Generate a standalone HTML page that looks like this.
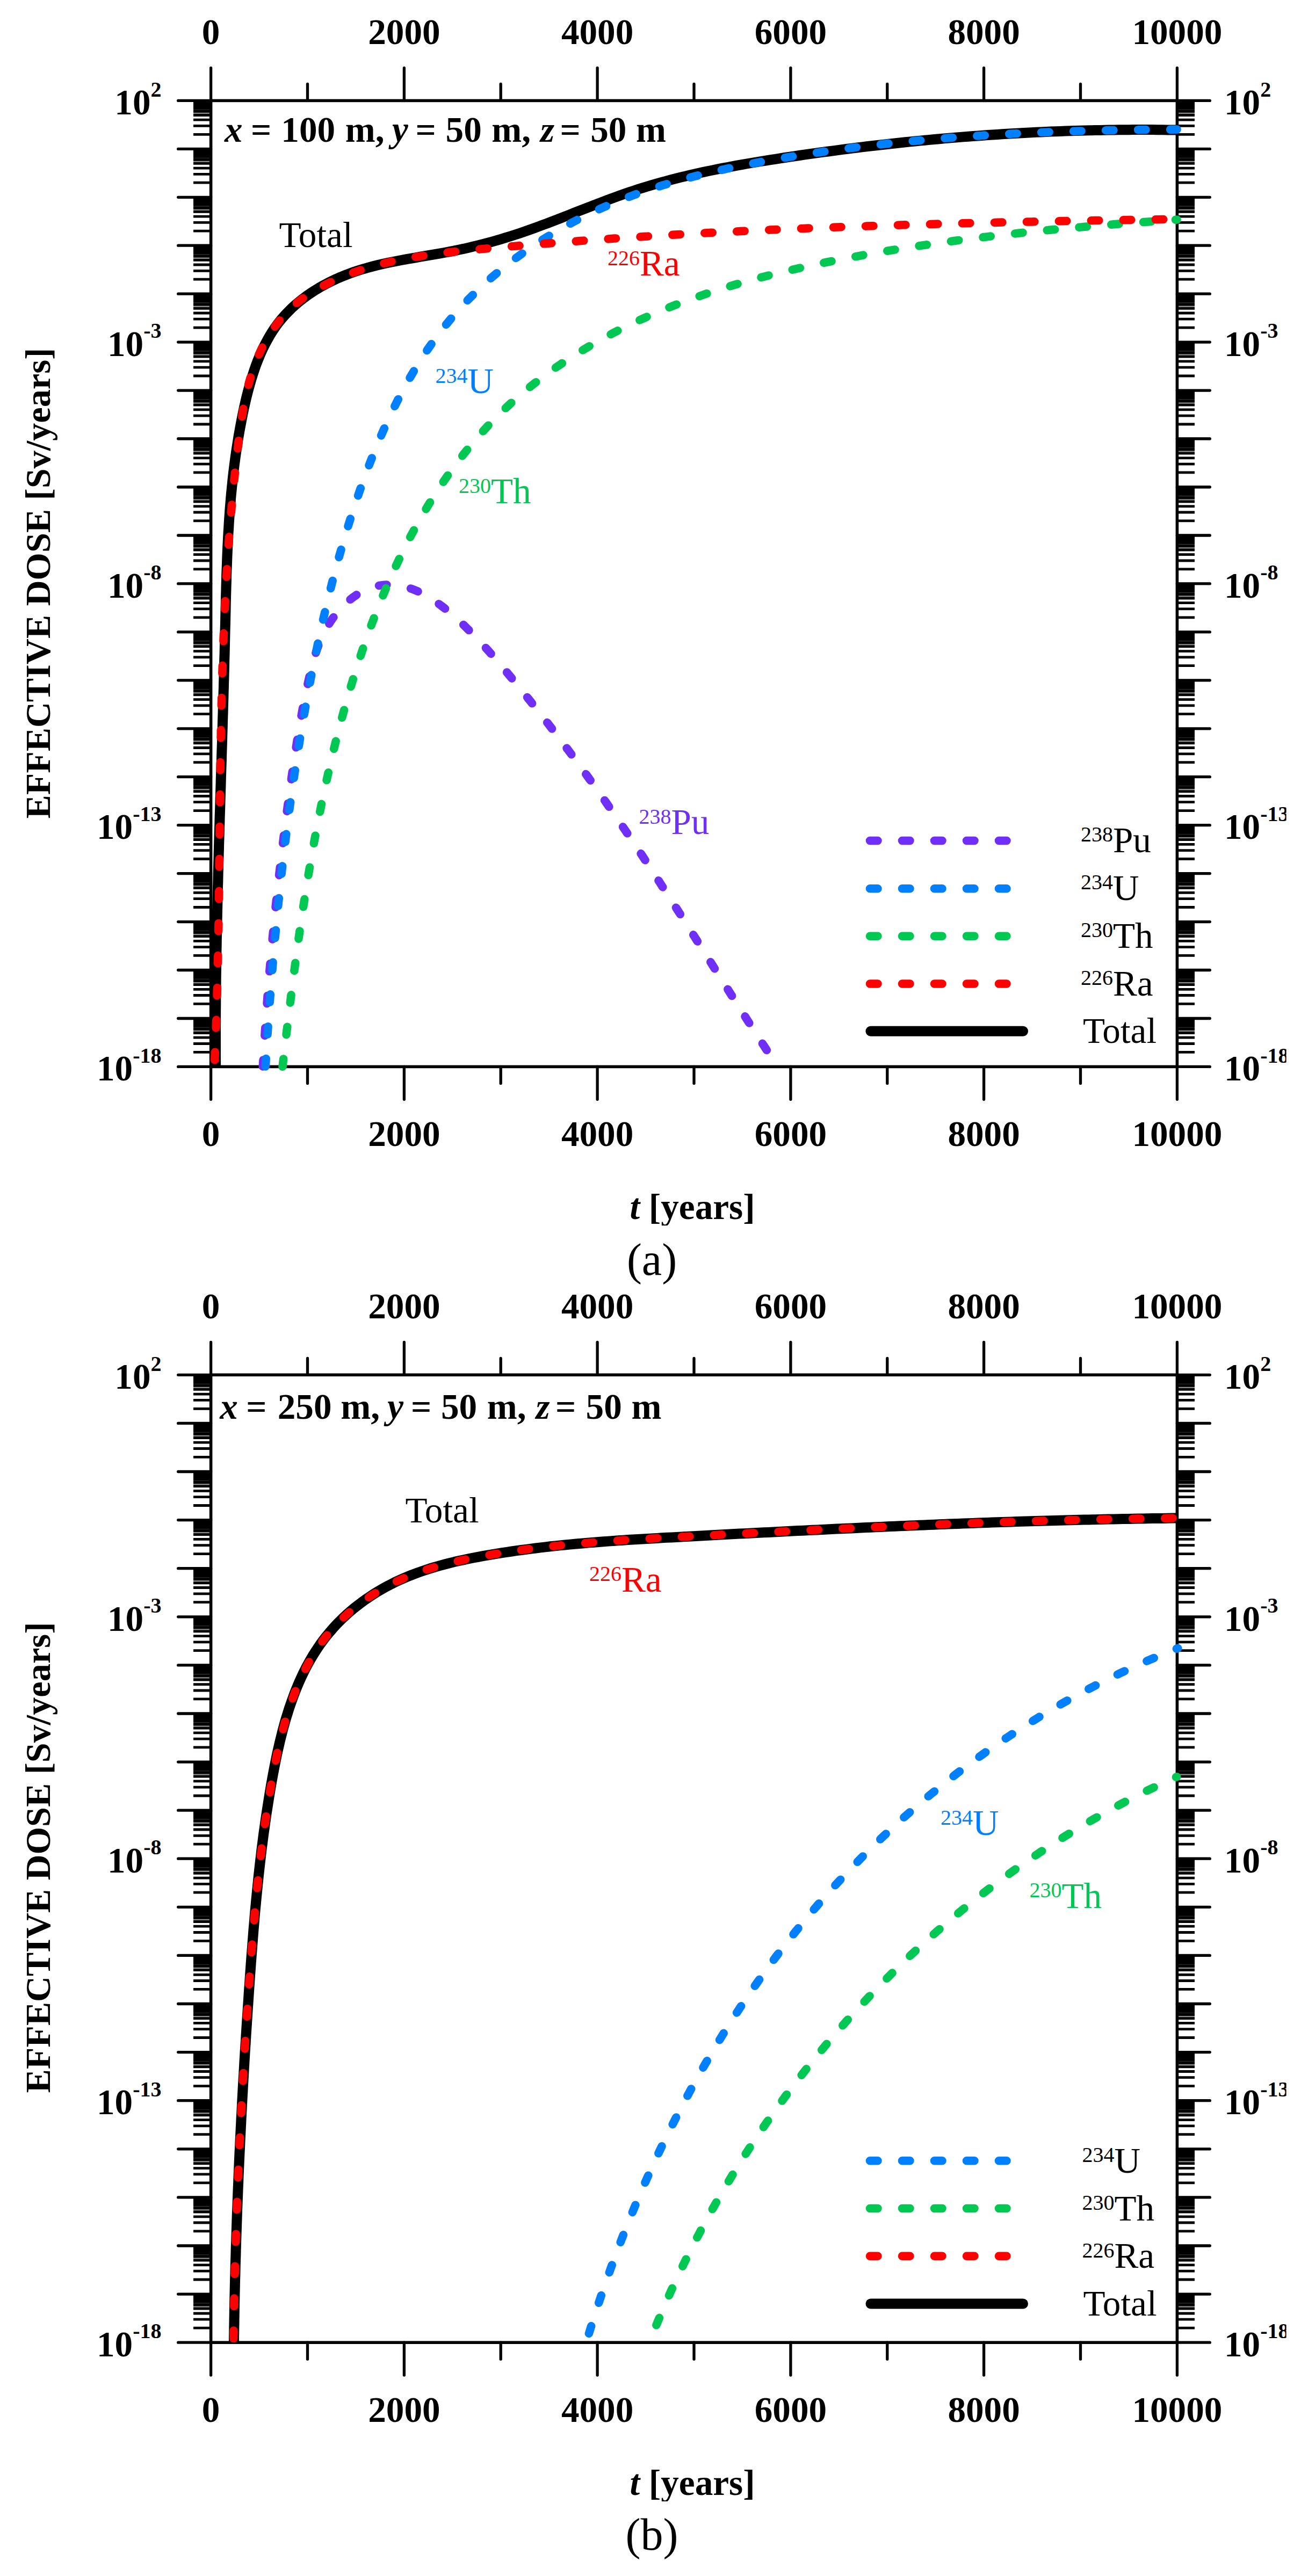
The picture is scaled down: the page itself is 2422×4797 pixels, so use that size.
<!DOCTYPE html>
<html lang="en">
<head>
<meta charset="utf-8">
<title>Effective dose</title>
<style>
html,body{margin:0;padding:0;background:#fff}
body{width:2422px;height:4797px;overflow:hidden}
svg{display:block}
text{font-family:"Liberation Serif",serif;font-size:67.2px;fill:#000}
.b text{font-weight:bold}
.i{font-style:italic}
.s{font-size:40px}
.cap{font-size:84px}
</style>
</head>
<body>
<svg width="2422" height="4797" viewBox="0 0 2422 4797">
<rect width="2422" height="4797" fill="#fff"/>
<g>

<path d="M360 187.4h32.6V203.7h-32.6zM2191.4 187.4h32.6V203.7h-32.6zM360 277.4h32.6V293.7h-32.6zM2191.4 277.4h32.6V293.7h-32.6zM360 367.3h32.6V383.6h-32.6zM2191.4 367.3h32.6V383.6h-32.6zM360 457.2h32.6V473.6h-32.6zM2191.4 457.2h32.6V473.6h-32.6zM360 547.2h32.6V563.5h-32.6zM2191.4 547.2h32.6V563.5h-32.6zM360 637.1h32.6V653.5h-32.6zM2191.4 637.1h32.6V653.5h-32.6zM360 727.1h32.6V743.4h-32.6zM2191.4 727.1h32.6V743.4h-32.6zM360 817h32.6V833.4h-32.6zM2191.4 817h32.6V833.4h-32.6zM360 907h32.6V923.3h-32.6zM2191.4 907h32.6V923.3h-32.6zM360 997h32.6V1013.3h-32.6zM2191.4 997h32.6V1013.3h-32.6zM360 1086.9h32.6V1103.2h-32.6zM2191.4 1086.9h32.6V1103.2h-32.6zM360 1176.9h32.6V1193.2h-32.6zM2191.4 1176.9h32.6V1193.2h-32.6zM360 1266.8h32.6V1283.1h-32.6zM2191.4 1266.8h32.6V1283.1h-32.6zM360 1356.8h32.6V1373.1h-32.6zM2191.4 1356.8h32.6V1373.1h-32.6zM360 1446.7h32.6V1463h-32.6zM2191.4 1446.7h32.6V1463h-32.6zM360 1536.7h32.6V1553h-32.6zM2191.4 1536.7h32.6V1553h-32.6zM360 1626.6h32.6V1642.9h-32.6zM2191.4 1626.6h32.6V1642.9h-32.6zM360 1716.6h32.6V1732.9h-32.6zM2191.4 1716.6h32.6V1732.9h-32.6zM360 1806.5h32.6V1822.8h-32.6zM2191.4 1806.5h32.6V1822.8h-32.6zM360 1896.5h32.6V1912.8h-32.6zM2191.4 1896.5h32.6V1912.8h-32.6z" fill="#000"/>
<path d="M360 203.7h32.6V207.4h-32.6zM2191.4 203.7h32.6V207.4h-32.6zM360 293.7h32.6V297.3h-32.6zM2191.4 293.7h32.6V297.3h-32.6zM360 383.6h32.6V387.3h-32.6zM2191.4 383.6h32.6V387.3h-32.6zM360 473.6h32.6V477.2h-32.6zM2191.4 473.6h32.6V477.2h-32.6zM360 563.5h32.6V567.2h-32.6zM2191.4 563.5h32.6V567.2h-32.6zM360 653.5h32.6V657.1h-32.6zM2191.4 653.5h32.6V657.1h-32.6zM360 743.4h32.6V747.1h-32.6zM2191.4 743.4h32.6V747.1h-32.6zM360 833.4h32.6V837h-32.6zM2191.4 833.4h32.6V837h-32.6zM360 923.3h32.6V927h-32.6zM2191.4 923.3h32.6V927h-32.6zM360 1013.3h32.6V1016.9h-32.6zM2191.4 1013.3h32.6V1016.9h-32.6zM360 1103.2h32.6V1106.9h-32.6zM2191.4 1103.2h32.6V1106.9h-32.6zM360 1193.2h32.6V1196.8h-32.6zM2191.4 1193.2h32.6V1196.8h-32.6zM360 1283.1h32.6V1286.8h-32.6zM2191.4 1283.1h32.6V1286.8h-32.6zM360 1373.1h32.6V1376.7h-32.6zM2191.4 1373.1h32.6V1376.7h-32.6zM360 1463h32.6V1466.7h-32.6zM2191.4 1463h32.6V1466.7h-32.6zM360 1553h32.6V1556.6h-32.6zM2191.4 1553h32.6V1556.6h-32.6zM360 1642.9h32.6V1646.6h-32.6zM2191.4 1642.9h32.6V1646.6h-32.6zM360 1732.9h32.6V1736.5h-32.6zM2191.4 1732.9h32.6V1736.5h-32.6zM360 1822.8h32.6V1826.5h-32.6zM2191.4 1822.8h32.6V1826.5h-32.6zM360 1912.8h32.6V1916.4h-32.6zM2191.4 1912.8h32.6V1916.4h-32.6z" fill="#000" fill-opacity="0.85"/>
<path d="M360 207.4h32.6V214.5h-32.6zM2191.4 207.4h32.6V214.5h-32.6zM360 297.3h32.6V304.4h-32.6zM2191.4 297.3h32.6V304.4h-32.6zM360 387.3h32.6V394.4h-32.6zM2191.4 387.3h32.6V394.4h-32.6zM360 477.2h32.6V484.3h-32.6zM2191.4 477.2h32.6V484.3h-32.6zM360 567.2h32.6V574.3h-32.6zM2191.4 567.2h32.6V574.3h-32.6zM360 657.1h32.6V664.2h-32.6zM2191.4 657.1h32.6V664.2h-32.6zM360 747.1h32.6V754.2h-32.6zM2191.4 747.1h32.6V754.2h-32.6zM360 837h32.6V844.1h-32.6zM2191.4 837h32.6V844.1h-32.6zM360 927h32.6V934.1h-32.6zM2191.4 927h32.6V934.1h-32.6zM360 1016.9h32.6V1024h-32.6zM2191.4 1016.9h32.6V1024h-32.6zM360 1106.9h32.6V1114h-32.6zM2191.4 1106.9h32.6V1114h-32.6zM360 1196.8h32.6V1203.9h-32.6zM2191.4 1196.8h32.6V1203.9h-32.6zM360 1286.8h32.6V1293.9h-32.6zM2191.4 1286.8h32.6V1293.9h-32.6zM360 1376.7h32.6V1383.8h-32.6zM2191.4 1376.7h32.6V1383.8h-32.6zM360 1466.7h32.6V1473.8h-32.6zM2191.4 1466.7h32.6V1473.8h-32.6zM360 1556.6h32.6V1563.7h-32.6zM2191.4 1556.6h32.6V1563.7h-32.6zM360 1646.6h32.6V1653.7h-32.6zM2191.4 1646.6h32.6V1653.7h-32.6zM360 1736.5h32.6V1743.6h-32.6zM2191.4 1736.5h32.6V1743.6h-32.6zM360 1826.5h32.6V1833.6h-32.6zM2191.4 1826.5h32.6V1833.6h-32.6zM360 1916.4h32.6V1923.5h-32.6zM2191.4 1916.4h32.6V1923.5h-32.6z" fill="#000" fill-opacity="0.45"/>
<path d="M360 250.3H392.6M2191.4 250.3H2224M360 234.4H392.6M2191.4 234.4H2224M360 223.2H392.6M2191.4 223.2H2224M360 214.5H392.6M2191.4 214.5H2224M360 207.4H392.6M2191.4 207.4H2224M360 201.3H392.6M2191.4 201.3H2224M360 196.1H392.6M2191.4 196.1H2224M360 191.5H392.6M2191.4 191.5H2224M360 340.2H392.6M2191.4 340.2H2224M360 324.4H392.6M2191.4 324.4H2224M360 313.1H392.6M2191.4 313.1H2224M360 304.4H392.6M2191.4 304.4H2224M360 297.3H392.6M2191.4 297.3H2224M360 291.3H392.6M2191.4 291.3H2224M360 286.1H392.6M2191.4 286.1H2224M360 281.5H392.6M2191.4 281.5H2224M360 430.2H392.6M2191.4 430.2H2224M360 414.3H392.6M2191.4 414.3H2224M360 403.1H392.6M2191.4 403.1H2224M360 394.4H392.6M2191.4 394.4H2224M360 387.3H392.6M2191.4 387.3H2224M360 381.2H392.6M2191.4 381.2H2224M360 376H392.6M2191.4 376H2224M360 371.4H392.6M2191.4 371.4H2224M360 520.1H392.6M2191.4 520.1H2224M360 504.3H392.6M2191.4 504.3H2224M360 493H392.6M2191.4 493H2224M360 484.3H392.6M2191.4 484.3H2224M360 477.2H392.6M2191.4 477.2H2224M360 471.2H392.6M2191.4 471.2H2224M360 466H392.6M2191.4 466H2224M360 461.4H392.6M2191.4 461.4H2224M360 610.1H392.6M2191.4 610.1H2224M360 594.2H392.6M2191.4 594.2H2224M360 583H392.6M2191.4 583H2224M360 574.3H392.6M2191.4 574.3H2224M360 567.2H392.6M2191.4 567.2H2224M360 561.1H392.6M2191.4 561.1H2224M360 555.9H392.6M2191.4 555.9H2224M360 551.3H392.6M2191.4 551.3H2224M360 700H392.6M2191.4 700H2224M360 684.2H392.6M2191.4 684.2H2224M360 672.9H392.6M2191.4 672.9H2224M360 664.2H392.6M2191.4 664.2H2224M360 657.1H392.6M2191.4 657.1H2224M360 651.1H392.6M2191.4 651.1H2224M360 645.9H392.6M2191.4 645.9H2224M360 641.3H392.6M2191.4 641.3H2224M360 790H392.6M2191.4 790H2224M360 774.1H392.6M2191.4 774.1H2224M360 762.9H392.6M2191.4 762.9H2224M360 754.2H392.6M2191.4 754.2H2224M360 747.1H392.6M2191.4 747.1H2224M360 741H392.6M2191.4 741H2224M360 735.8H392.6M2191.4 735.8H2224M360 731.2H392.6M2191.4 731.2H2224M360 879.9H392.6M2191.4 879.9H2224M360 864.1H392.6M2191.4 864.1H2224M360 852.8H392.6M2191.4 852.8H2224M360 844.1H392.6M2191.4 844.1H2224M360 837H392.6M2191.4 837H2224M360 831H392.6M2191.4 831H2224M360 825.8H392.6M2191.4 825.8H2224M360 821.2H392.6M2191.4 821.2H2224M360 969.9H392.6M2191.4 969.9H2224M360 954H392.6M2191.4 954H2224M360 942.8H392.6M2191.4 942.8H2224M360 934.1H392.6M2191.4 934.1H2224M360 927H392.6M2191.4 927H2224M360 920.9H392.6M2191.4 920.9H2224M360 915.7H392.6M2191.4 915.7H2224M360 911.1H392.6M2191.4 911.1H2224M360 1059.8H392.6M2191.4 1059.8H2224M360 1044H392.6M2191.4 1044H2224M360 1032.7H392.6M2191.4 1032.7H2224M360 1024H392.6M2191.4 1024H2224M360 1016.9H392.6M2191.4 1016.9H2224M360 1010.9H392.6M2191.4 1010.9H2224M360 1005.7H392.6M2191.4 1005.7H2224M360 1001.1H392.6M2191.4 1001.1H2224M360 1149.8H392.6M2191.4 1149.8H2224M360 1133.9H392.6M2191.4 1133.9H2224M360 1122.7H392.6M2191.4 1122.7H2224M360 1114H392.6M2191.4 1114H2224M360 1106.9H392.6M2191.4 1106.9H2224M360 1100.8H392.6M2191.4 1100.8H2224M360 1095.6H392.6M2191.4 1095.6H2224M360 1091H392.6M2191.4 1091H2224M360 1239.7H392.6M2191.4 1239.7H2224M360 1223.9H392.6M2191.4 1223.9H2224M360 1212.6H392.6M2191.4 1212.6H2224M360 1203.9H392.6M2191.4 1203.9H2224M360 1196.8H392.6M2191.4 1196.8H2224M360 1190.8H392.6M2191.4 1190.8H2224M360 1185.6H392.6M2191.4 1185.6H2224M360 1181H392.6M2191.4 1181H2224M360 1329.7H392.6M2191.4 1329.7H2224M360 1313.8H392.6M2191.4 1313.8H2224M360 1302.6H392.6M2191.4 1302.6H2224M360 1293.9H392.6M2191.4 1293.9H2224M360 1286.8H392.6M2191.4 1286.8H2224M360 1280.7H392.6M2191.4 1280.7H2224M360 1275.5H392.6M2191.4 1275.5H2224M360 1270.9H392.6M2191.4 1270.9H2224M360 1419.6H392.6M2191.4 1419.6H2224M360 1403.8H392.6M2191.4 1403.8H2224M360 1392.5H392.6M2191.4 1392.5H2224M360 1383.8H392.6M2191.4 1383.8H2224M360 1376.7H392.6M2191.4 1376.7H2224M360 1370.7H392.6M2191.4 1370.7H2224M360 1365.5H392.6M2191.4 1365.5H2224M360 1360.9H392.6M2191.4 1360.9H2224M360 1509.6H392.6M2191.4 1509.6H2224M360 1493.7H392.6M2191.4 1493.7H2224M360 1482.5H392.6M2191.4 1482.5H2224M360 1473.8H392.6M2191.4 1473.8H2224M360 1466.7H392.6M2191.4 1466.7H2224M360 1460.6H392.6M2191.4 1460.6H2224M360 1455.4H392.6M2191.4 1455.4H2224M360 1450.8H392.6M2191.4 1450.8H2224M360 1599.5H392.6M2191.4 1599.5H2224M360 1583.7H392.6M2191.4 1583.7H2224M360 1572.4H392.6M2191.4 1572.4H2224M360 1563.7H392.6M2191.4 1563.7H2224M360 1556.6H392.6M2191.4 1556.6H2224M360 1550.6H392.6M2191.4 1550.6H2224M360 1545.4H392.6M2191.4 1545.4H2224M360 1540.8H392.6M2191.4 1540.8H2224M360 1689.5H392.6M2191.4 1689.5H2224M360 1673.6H392.6M2191.4 1673.6H2224M360 1662.4H392.6M2191.4 1662.4H2224M360 1653.7H392.6M2191.4 1653.7H2224M360 1646.6H392.6M2191.4 1646.6H2224M360 1640.5H392.6M2191.4 1640.5H2224M360 1635.3H392.6M2191.4 1635.3H2224M360 1630.7H392.6M2191.4 1630.7H2224M360 1779.4H392.6M2191.4 1779.4H2224M360 1763.6H392.6M2191.4 1763.6H2224M360 1752.3H392.6M2191.4 1752.3H2224M360 1743.6H392.6M2191.4 1743.6H2224M360 1736.5H392.6M2191.4 1736.5H2224M360 1730.5H392.6M2191.4 1730.5H2224M360 1725.3H392.6M2191.4 1725.3H2224M360 1720.7H392.6M2191.4 1720.7H2224M360 1869.4H392.6M2191.4 1869.4H2224M360 1853.5H392.6M2191.4 1853.5H2224M360 1842.3H392.6M2191.4 1842.3H2224M360 1833.6H392.6M2191.4 1833.6H2224M360 1826.5H392.6M2191.4 1826.5H2224M360 1820.4H392.6M2191.4 1820.4H2224M360 1815.2H392.6M2191.4 1815.2H2224M360 1810.6H392.6M2191.4 1810.6H2224M360 1959.3H392.6M2191.4 1959.3H2224M360 1943.5H392.6M2191.4 1943.5H2224M360 1932.2H392.6M2191.4 1932.2H2224M360 1923.5H392.6M2191.4 1923.5H2224M360 1916.4H392.6M2191.4 1916.4H2224M360 1910.4H392.6M2191.4 1910.4H2224M360 1905.2H392.6M2191.4 1905.2H2224M360 1900.6H392.6M2191.4 1900.6H2224" stroke="#000" stroke-width="4.8" fill="none"/>
<path d="M331.7 187.4H392.6M2191.4 187.4H2252.3M331.7 277.4H392.6M2191.4 277.4H2252.3M331.7 367.3H392.6M2191.4 367.3H2252.3M331.7 457.2H392.6M2191.4 457.2H2252.3M331.7 547.2H392.6M2191.4 547.2H2252.3M331.7 637.1H392.6M2191.4 637.1H2252.3M331.7 727.1H392.6M2191.4 727.1H2252.3M331.7 817H392.6M2191.4 817H2252.3M331.7 907H392.6M2191.4 907H2252.3M331.7 997H392.6M2191.4 997H2252.3M331.7 1086.9H392.6M2191.4 1086.9H2252.3M331.7 1176.9H392.6M2191.4 1176.9H2252.3M331.7 1266.8H392.6M2191.4 1266.8H2252.3M331.7 1356.8H392.6M2191.4 1356.8H2252.3M331.7 1446.7H392.6M2191.4 1446.7H2252.3M331.7 1536.7H392.6M2191.4 1536.7H2252.3M331.7 1626.6H392.6M2191.4 1626.6H2252.3M331.7 1716.6H392.6M2191.4 1716.6H2252.3M331.7 1806.5H392.6M2191.4 1806.5H2252.3M331.7 1896.5H392.6M2191.4 1896.5H2252.3M331.7 1986.4H392.6M2191.4 1986.4H2252.3M392.6 126.5V187.4M392.6 1986.4V2047.3M572.5 156.4V187.4M572.5 1986.4V2017.4M752.4 126.5V187.4M752.4 1986.4V2047.3M932.2 156.4V187.4M932.2 1986.4V2017.4M1112.1 126.5V187.4M1112.1 1986.4V2047.3M1292 156.4V187.4M1292 1986.4V2017.4M1471.9 126.5V187.4M1471.9 1986.4V2047.3M1651.8 156.4V187.4M1651.8 1986.4V2017.4M1831.6 126.5V187.4M1831.6 1986.4V2047.3M2011.5 156.4V187.4M2011.5 1986.4V2017.4M2191.4 126.5V187.4M2191.4 1986.4V2047.3" stroke="#000" stroke-width="5.3" fill="none" stroke-linecap="round"/>
<rect x="392.6" y="187.4" width="1798.8" height="1799" fill="none" stroke="#000" stroke-width="5.6"/>
<g fill="none" stroke-linecap="round" stroke-linejoin="round">
<path d="M401.6 1986.3 401.6 1977.3 401.5 1968.2 401.5 1959.2 401.5 1950.2 401.5 1941.1 401.5 1932.1 401.5 1923 401.5 1914 401.5 1904.9 401.6 1895.9 401.6 1886.8 401.7 1877.8 401.8 1868.8 401.8 1859.7 401.9 1850.7 402 1841.6 402.1 1832.6 402.2 1823.5 402.3 1814.5 402.5 1805.5 402.6 1796.4 402.7 1787.4 402.9 1778.3 403 1769.3 403.2 1760.2 403.3 1751.2 403.5 1742.2 403.7 1733.1 403.9 1724.1 404.1 1715 404.3 1706 404.5 1696.9 404.7 1687.9 404.9 1678.9 405.1 1669.8 405.3 1660.8 405.5 1651.7 405.8 1642.7 406 1633.7 406.2 1624.6 406.5 1615.6 406.7 1606.5 407 1597.5 407.2 1588.5 407.5 1579.4 407.7 1570.4 408 1561.3 408.2 1552.3 408.5 1543.2 408.8 1534.2 409 1525.2 409.3 1516.1 409.6 1507.1 409.9 1498 410.1 1489 410.4 1480 410.7 1470.9 411 1461.9 411.2 1452.8 411.5 1443.8 411.8 1434.8 412.1 1425.7 412.4 1416.7 412.6 1407.7 412.9 1398.6 413.2 1389.6 413.5 1380.5 413.7 1371.5 414 1362.5 414.3 1353.4 414.5 1344.4 414.8 1335.3 415.1 1326.3 415.3 1317.3 415.6 1308.2 415.9 1299.2 416.1 1290.1 416.4 1281.1 416.6 1272 416.9 1263 417.1 1254 417.4 1244.9 417.6 1235.9 417.8 1226.8 418.1 1217.8 418.3 1208.8 418.5 1199.7 418.7 1190.7 418.9 1181.6 419.1 1172.6 419.4 1163.6 419.6 1154.5 419.8 1145.5 420 1136.4 420.2 1127.4 420.4 1118.3 420.6 1109.3 420.9 1100.3 421.1 1091.2 421.4 1082.2 421.6 1073.1 421.9 1064.1 422.3 1055.1 422.6 1046 422.9 1037 423.3 1028 423.7 1018.9 424.2 1009.9 424.6 1000.9 425.1 991.8 425.7 982.8 426.2 973.8 426.8 964.7 427.5 955.7 428.1 946.7 428.9 937.7 429.6 928.7 430.4 919.7 431.3 910.7 432.2 901.7 433.1 892.7 434.1 883.7 435.2 874.7 436.3 865.7 437.5 856.8 438.7 847.8 440 838.9 441.4 829.9 442.8 821 444.2 812.1 445.8 803.1 447.4 794.2 449.1 785.4 450.8 776.5 452.6 767.6 454.5 758.8 456.5 749.9 458.5 741.1 460.7 732.4 463 723.6 465.4 714.9 467.9 706.2 470.6 697.6 473.4 689 476.4 680.4 479.6 672 483 663.6 486.6 655.3 490.4 647.1 494.5 639 498.8 631.1 503.3 623.2 508.1 615.6 513.2 608.1 518.6 600.9 524.3 593.8 530.3 587 536.5 580.4 542.9 574.1 549.6 568 556.5 562.1 563.6 556.5 570.8 551.1 578.2 545.9 585.8 541 593.5 536.3 601.4 531.8 609.4 527.5 617.4 523.5 625.6 519.6 633.9 516 642.3 512.6 650.7 509.4 659.3 506.3 667.8 503.5 676.5 500.8 685.2 498.4 693.9 496 702.7 493.8 711.5 491.8 720.3 489.8 729.2 488 738.1 486.2 746.9 484.5 755.8 482.9 764.7 481.3 773.6 479.8 782.6 478.2 791.5 476.7 800.4 475.2 809.3 473.7 818.2 472.1 827.1 470.5 836 468.8 844.9 467.1 853.7 465.2 862.6 463.4 871.4 461.4 880.2 459.3 889 457.2 897.8 455 906.5 452.7 915.2 450.3 924 447.9 932.6 445.3 941.3 442.7 949.9 440 958.5 437.3 967.1 434.4 975.7 431.5 984.2 428.5 992.7 425.5 1001.2 422.4 1009.7 419.2 1018.2 416.1 1026.6 412.8 1035.1 409.6 1043.5 406.3 1051.9 403 1060.4 399.8 1068.8 396.4 1077.2 393.1 1085.6 389.8 1094 386.6 1102.5 383.3 1110.9 380 1119.4 376.8 1127.8 373.6 1136.3 370.5 1144.8 367.3 1153.3 364.3 1161.8 361.3 1170.4 358.3 1179 355.4 1187.5 352.6 1196.2 349.9 1204.8 347.2 1213.5 344.6 1222.2 342.1 1230.9 339.7 1239.6 337.3 1248.3 335 1257.1 332.7 1265.9 330.5 1274.7 328.4 1283.5 326.3 1292.3 324.3 1301.1 322.3 1309.9 320.4 1318.8 318.5 1327.6 316.7 1336.5 314.9 1345.4 313.2 1354.3 311.5 1363.2 309.8 1372.1 308.2 1381 306.6 1389.9 305 1398.8 303.5 1407.7 302 1416.6 300.5 1425.6 299.1 1434.5 297.7 1443.4 296.3 1452.4 294.9 1461.3 293.5 1470.2 292.2 1479.2 290.8 1488.1 289.5 1497.1 288.2 1506 286.9 1515 285.7 1523.9 284.4 1532.9 283.2 1541.9 282 1550.8 280.8 1559.8 279.6 1568.8 278.4 1577.7 277.3 1586.7 276.1 1595.7 275 1604.7 273.9 1613.6 272.8 1622.6 271.8 1631.6 270.7 1640.6 269.7 1649.6 268.7 1658.6 267.7 1667.6 266.7 1676.5 265.7 1685.5 264.8 1694.5 263.9 1703.5 263 1712.5 262.1 1721.5 261.2 1730.5 260.4 1739.6 259.5 1748.6 258.7 1757.6 257.9 1766.6 257.1 1775.6 256.4 1784.6 255.6 1793.6 254.9 1802.6 254.2 1811.7 253.5 1820.7 252.9 1829.7 252.2 1838.7 251.6 1847.7 251 1856.8 250.4 1865.8 249.8 1874.8 249.3 1883.8 248.7 1892.9 248.2 1901.9 247.7 1910.9 247.2 1920 246.8 1929 246.3 1938 245.9 1947.1 245.5 1956.1 245.1 1965.1 244.8 1974.2 244.4 1983.2 244.1 1992.3 243.8 2001.3 243.5 2010.3 243.2 2019.4 243 2028.4 242.8 2037.5 242.6 2046.5 242.4 2055.5 242.2 2064.6 242.1 2073.6 241.9 2082.7 241.8 2091.7 241.7 2100.8 241.7 2109.8 241.6 2118.8 241.6 2127.9 241.6 2136.9 241.6 2146 241.6 2155 241.7 2164.1 241.8 2173.1 241.9 2182.2 242 2191.2 242.1" stroke="#000" stroke-width="19.0" stroke-linecap="butt"/>
<path d="M489.3 1985.9 489.8 1976.9 490.4 1967.9 490.9 1958.8 491.4 1949.8 492 1940.8 492.6 1931.8 493.2 1922.8 493.8 1913.7 494.4 1904.7 495 1895.7 495.7 1886.7 496.3 1877.7 497 1868.6 497.7 1859.6 498.4 1850.6 499.1 1841.6 499.8 1832.6 500.5 1823.6 501.3 1814.6 502 1805.6 502.8 1796.6 503.6 1787.6 504.4 1778.5 505.2 1769.5 506.1 1760.5 506.9 1751.5 507.7 1742.5 508.6 1733.5 509.5 1724.5 510.4 1715.5 511.3 1706.6 512.2 1697.6 513.1 1688.6 514.1 1679.6 515 1670.6 516 1661.6 517 1652.6 518 1643.6 519 1634.6 520 1625.7 521.1 1616.7 522.1 1607.7 523.2 1598.7 524.2 1589.7 525.3 1580.8 526.4 1571.8 527.5 1562.8 528.6 1553.8 529.8 1544.9 530.9 1535.9 532.1 1526.9 533.2 1518 534.4 1509 535.6 1500.1 536.8 1491.1 538 1482.1 539.3 1473.2 540.5 1464.2 541.8 1455.3 543 1446.3 544.3 1437.4 545.6 1428.4 546.9 1419.5 548.3 1410.5 549.6 1401.6 551 1392.7 552.4 1383.7 553.8 1374.8 555.3 1365.9 556.8 1357 558.3 1348.1 559.9 1339.2 561.5 1330.3 563.1 1321.4 564.8 1312.5 566.6 1303.6 568.3 1294.8 570.2 1285.9 572.1 1277.1 574.1 1268.2 576.1 1259.4 578.2 1250.6 580.4 1241.9 582.7 1233.1 585.2 1224.4 587.9 1215.8 590.8 1207.3 594 1198.8 597.5 1190.5 601.2 1182.2 605.3 1174.2 609.8 1166.3 614.5 1158.6 619.6 1151.2 625.1 1143.9 630.8 1137 636.9 1130.3 643.3 1123.9 650.1 1117.9 657.2 1112.3 664.6 1107.2 672.4 1102.5 680.4 1098.4 688.8 1095 697.4 1092.3 706.2 1090.4 715.2 1089.2 724.2 1088.8 733.3 1089.1 742.2 1090.2 751.1 1091.9 759.8 1094.3 768.4 1097.3 776.7 1100.7 784.9 1104.6 792.8 1108.9 800.6 1113.5 808.2 1118.4 815.6 1123.6 822.9 1129 830 1134.5 837 1140.3 843.9 1146.2 850.6 1152.2 857.2 1158.3 863.8 1164.5 870.3 1170.9 876.7 1177.2 883 1183.7 889.3 1190.2 895.4 1196.8 901.6 1203.5 907.6 1210.2 913.6 1216.9 919.6 1223.7 925.5 1230.6 931.3 1237.5 937.2 1244.4 943 1251.3 948.8 1258.3 954.5 1265.2 960.3 1272.2 966 1279.2 971.7 1286.2 977.4 1293.3 983 1300.3 988.7 1307.4 994.3 1314.4 999.9 1321.5 1005.5 1328.6 1011.1 1335.7 1016.6 1342.9 1022.2 1350 1027.7 1357.2 1033.2 1364.4 1038.7 1371.5 1044.2 1378.7 1049.6 1386 1055 1393.2 1060.5 1400.4 1065.9 1407.7 1071.2 1414.9 1076.6 1422.2 1081.9 1429.5 1087.3 1436.8 1092.6 1444.1 1097.9 1451.5 1103.1 1458.8 1108.4 1466.2 1113.6 1473.5 1118.9 1480.9 1124.1 1488.3 1129.3 1495.7 1134.4 1503.1 1139.6 1510.5 1144.7 1518 1149.8 1525.4 1154.9 1532.9 1160 1540.4 1165.1 1547.8 1170.2 1555.3 1175.2 1562.8 1180.3 1570.3 1185.3 1577.9 1190.3 1585.4 1195.3 1592.9 1200.3 1600.5 1205.2 1608 1210.2 1615.6 1215.1 1623.1 1220.1 1630.7 1225 1638.3 1229.9 1645.9 1234.8 1653.5 1239.7 1661.1 1244.6 1668.7 1249.5 1676.3 1254.4 1683.9 1259.3 1691.5 1264.2 1699.1 1269 1706.7 1273.9 1714.4 1278.7 1722 1283.6 1729.6 1288.4 1737.2 1293.3 1744.9 1298.1 1752.5 1302.9 1760.2 1307.8 1767.8 1312.6 1775.4 1317.4 1783.1 1322.3 1790.7 1327.1 1798.4 1331.9 1806 1336.7 1813.7 1341.6 1821.3 1346.4 1828.9 1351.2 1836.6 1356.1 1844.2 1360.9 1851.8 1365.8 1859.5 1370.6 1867.1 1375.5 1874.7 1380.3 1882.4 1385.2 1890 1390 1897.6 1394.9 1905.2 1399.8 1912.8 1404.7 1920.4 1409.6 1928 1414.5 1935.6 1419.4 1943.2 1424.3 1950.8 1429.2 1958.4 1434.2 1966" stroke="#6f2ff7" stroke-width="15.5" stroke-dasharray="14.5 45.5" stroke-dashoffset="2.5"/>
<path d="M494.3 1986 494.9 1977 495.4 1967.9 496 1958.9 496.5 1949.9 497.1 1940.9 497.7 1931.8 498.3 1922.8 498.9 1913.8 499.5 1904.8 500.1 1895.8 500.8 1886.8 501.4 1877.7 502.1 1868.7 502.7 1859.7 503.4 1850.7 504.1 1841.7 504.8 1832.7 505.5 1823.7 506.2 1814.7 507 1805.6 507.7 1796.6 508.5 1787.6 509.3 1778.6 510 1769.6 510.8 1760.6 511.6 1751.6 512.5 1742.6 513.3 1733.6 514.1 1724.6 515 1715.6 515.9 1706.6 516.7 1697.6 517.6 1688.6 518.5 1679.6 519.5 1670.6 520.4 1661.6 521.4 1652.7 522.3 1643.7 523.3 1634.7 524.3 1625.7 525.3 1616.7 526.3 1607.7 527.4 1598.8 528.4 1589.8 529.5 1580.8 530.6 1571.8 531.7 1562.9 532.8 1553.9 533.9 1544.9 535.1 1536 536.2 1527 537.4 1518 538.6 1509.1 539.8 1500.1 541.1 1491.2 542.3 1482.2 543.6 1473.3 544.8 1464.3 546.1 1455.4 547.5 1446.4 548.8 1437.5 550.1 1428.5 551.5 1419.6 552.9 1410.7 554.3 1401.7 555.7 1392.8 557.2 1383.9 558.6 1375 560.1 1366.1 561.6 1357.1 563.1 1348.2 564.6 1339.3 566.2 1330.4 567.8 1321.5 569.4 1312.6 571 1303.7 572.6 1294.8 574.3 1286 575.9 1277.1 577.6 1268.2 579.3 1259.3 581.1 1250.4 582.8 1241.6 584.6 1232.7 586.4 1223.9 588.3 1215 590.1 1206.2 592 1197.3 593.9 1188.5 595.8 1179.6 597.8 1170.8 599.7 1162 601.7 1153.2 603.8 1144.4 605.8 1135.6 607.9 1126.8 610 1118 612.2 1109.2 614.4 1100.4 616.6 1091.7 618.8 1082.9 621.1 1074.2 623.4 1065.4 625.7 1056.7 628.1 1048 630.5 1039.3 633 1030.6 635.5 1021.9 638 1013.2 640.5 1004.5 643.1 995.9 645.7 987.2 648.4 978.6 651.1 970 653.8 961.3 656.6 952.7 659.4 944.1 662.3 935.6 665.2 927 668.1 918.5 671.1 909.9 674.1 901.4 677.2 892.9 680.3 884.4 683.4 875.9 686.6 867.5 689.9 859 693.2 850.6 696.5 842.2 699.9 833.9 703.4 825.5 706.9 817.2 710.5 808.9 714.1 800.6 717.8 792.4 721.6 784.1 725.4 775.9 729.3 767.8 733.2 759.7 737.3 751.6 741.3 743.5 745.5 735.5 749.8 727.5 754.1 719.6 758.5 711.7 762.9 703.8 767.5 696 772.1 688.2 776.8 680.5 781.6 672.8 786.5 665.2 791.4 657.7 796.5 650.2 801.6 642.8 806.9 635.4 812.2 628.1 817.6 620.8 823.1 613.7 828.7 606.6 834.4 599.6 840.2 592.6 846.1 585.8 852.1 579 858.1 572.3 864.3 565.7 870.5 559.1 876.9 552.7 883.3 546.3 889.8 540 896.3 533.8 903 527.7 909.7 521.6 916.5 515.7 923.4 509.8 930.3 504 937.3 498.3 944.4 492.7 951.6 487.2 958.8 481.7 966.1 476.4 973.4 471.1 980.8 465.9 988.2 460.8 995.7 455.7 1003.3 450.8 1010.9 445.9 1018.6 441.2 1026.3 436.5 1034.1 431.8 1041.9 427.3 1049.8 422.9 1057.7 418.5 1065.7 414.2 1073.7 410 1081.7 405.9 1089.8 401.8 1097.9 397.9 1106.1 394 1114.3 390.2 1122.5 386.5 1130.8 382.9 1139.1 379.3 1147.5 375.8 1155.8 372.5 1164.3 369.1 1172.7 365.9 1181.2 362.8 1189.7 359.7 1198.2 356.7 1206.8 353.8 1215.3 350.9 1223.9 348.2 1232.6 345.4 1241.2 342.8 1249.9 340.2 1258.6 337.7 1267.3 335.3 1276 332.9 1284.7 330.6 1293.5 328.3 1302.2 326.1 1311 323.9 1319.8 321.8 1328.6 319.8 1337.4 317.7 1346.2 315.8 1355.1 313.8 1363.9 312 1372.7 310.1 1381.6 308.3 1390.5 306.6 1399.3 304.8 1408.2 303.1 1417.1 301.5 1426 299.9 1434.9 298.3 1443.8 296.7 1452.7 295.2 1461.6 293.7 1470.5 292.2 1479.5 290.7 1488.4 289.3 1497.3 287.9 1506.2 286.5 1515.2 285.2 1524.1 283.8 1533.1 282.5 1542 281.3 1551 280 1559.9 278.8 1568.9 277.6 1577.8 276.4 1586.8 275.2 1595.8 274.1 1604.7 273 1613.7 271.9 1622.7 270.9 1631.7 269.8 1640.7 268.8 1649.6 267.8 1658.6 266.8 1667.6 265.9 1676.6 265 1685.6 264 1694.6 263.2 1703.6 262.3 1712.6 261.5 1721.6 260.6 1730.6 259.8 1739.6 259.1 1748.6 258.3 1757.6 257.5 1766.6 256.8 1775.6 256.1 1784.7 255.4 1793.7 254.8 1802.7 254.1 1811.7 253.5 1820.7 252.9 1829.7 252.3 1838.8 251.7 1847.8 251.2 1856.8 250.6 1865.8 250.1 1874.9 249.6 1883.9 249.1 1892.9 248.7 1901.9 248.2 1911 247.8 1920 247.4 1929 247 1938.1 246.6 1947.1 246.2 1956.1 245.8 1965.1 245.5 1974.2 245.2 1983.2 244.8 1992.2 244.5 2001.3 244.3 2010.3 244 2019.4 243.7 2028.4 243.5 2037.4 243.3 2046.5 243 2055.5 242.8 2064.5 242.6 2073.6 242.5 2082.6 242.3 2091.6 242.1 2100.7 242 2109.7 241.9 2118.8 241.7 2127.8 241.6 2136.8 241.5 2145.9 241.4 2154.9 241.4 2164 241.3 2173 241.2 2182 241.2 2191.1 241.1" stroke="#0080ff" stroke-width="15.5" stroke-dasharray="14.5 45.5" stroke-dashoffset="0"/>
<path d="M526 1986.3 527 1977.3 528.1 1968.3 529.2 1959.3 530.2 1950.4 531.3 1941.4 532.4 1932.4 533.4 1923.4 534.5 1914.4 535.6 1905.4 536.7 1896.4 537.8 1887.5 538.9 1878.5 540 1869.5 541.1 1860.5 542.2 1851.5 543.4 1842.6 544.5 1833.6 545.7 1824.6 546.8 1815.6 548 1806.6 549.2 1797.7 550.4 1788.7 551.6 1779.7 552.8 1770.8 554 1761.8 555.3 1752.8 556.5 1743.9 557.8 1734.9 559.1 1726 560.4 1717 561.7 1708 563.1 1699.1 564.4 1690.1 565.8 1681.2 567.2 1672.3 568.6 1663.3 570 1654.4 571.4 1645.4 572.9 1636.5 574.4 1627.6 575.9 1618.7 577.4 1609.7 578.9 1600.8 580.5 1591.9 582.1 1583 583.7 1574.1 585.3 1565.2 587 1556.3 588.6 1547.4 590.3 1538.5 592 1529.6 593.8 1520.7 595.6 1511.9 597.4 1503 599.2 1494.1 601 1485.3 602.9 1476.4 604.8 1467.6 606.8 1458.7 608.7 1449.9 610.7 1441.1 612.7 1432.2 614.8 1423.4 616.8 1414.6 618.9 1405.8 621.1 1397 623.2 1388.2 625.4 1379.4 627.7 1370.7 629.9 1361.9 632.2 1353.2 634.5 1344.4 636.9 1335.7 639.3 1326.9 641.7 1318.2 644.1 1309.5 646.6 1300.8 649.2 1292.1 651.7 1283.4 654.3 1274.8 656.9 1266.1 659.6 1257.4 662.3 1248.8 665.1 1240.2 667.8 1231.6 670.7 1223 673.5 1214.4 676.4 1205.8 679.4 1197.3 682.4 1188.7 685.4 1180.2 688.5 1171.7 691.6 1163.2 694.8 1154.7 698 1146.3 701.3 1137.8 704.6 1129.4 708 1121 711.4 1112.6 714.9 1104.3 718.4 1095.9 722 1087.6 725.6 1079.3 729.3 1071.1 733 1062.8 736.8 1054.6 740.6 1046.4 744.5 1038.2 748.5 1030.1 752.5 1022 756.6 1013.9 760.7 1005.9 764.9 997.8 769.2 989.9 773.5 981.9 777.9 974 782.4 966.1 786.9 958.3 791.5 950.5 796.1 942.7 800.8 935 805.6 927.3 810.5 919.7 815.4 912.1 820.4 904.5 825.5 897 830.6 889.6 835.8 882.2 841.1 874.8 846.4 867.5 851.9 860.3 857.4 853.1 862.9 846 868.6 838.9 874.3 831.9 880.1 824.9 886 818 891.9 811.2 897.9 804.5 904 797.8 910.2 791.1 916.5 784.6 922.8 778.1 929.2 771.7 935.7 765.4 942.2 759.2 948.8 753 955.5 746.9 962.3 740.9 969.2 735 976.1 729.2 983.1 723.4 990.1 717.7 997.2 712.1 1004.4 706.6 1011.6 701.1 1018.9 695.8 1026.2 690.5 1033.6 685.2 1041.1 680.1 1048.6 675 1056.1 670 1063.7 665.1 1071.4 660.3 1079 655.5 1086.8 650.8 1094.6 646.2 1102.4 641.6 1110.2 637.1 1118.1 632.7 1126.1 628.4 1134 624.1 1142.1 619.9 1150.1 615.7 1158.2 611.7 1166.3 607.7 1174.4 603.7 1182.6 599.8 1190.8 596 1199.1 592.3 1207.3 588.6 1215.6 585 1224 581.4 1232.3 577.9 1240.7 574.5 1249.1 571.1 1257.5 567.8 1265.9 564.6 1274.4 561.4 1282.9 558.3 1291.4 555.2 1300 552.2 1308.5 549.2 1317.1 546.3 1325.7 543.5 1334.3 540.7 1342.9 538 1351.6 535.3 1360.2 532.6 1368.9 530 1377.6 527.5 1386.3 525 1395 522.6 1403.7 520.2 1412.5 517.8 1421.2 515.5 1430 513.2 1438.7 511 1447.5 508.8 1456.3 506.7 1465.1 504.6 1473.9 502.5 1482.7 500.5 1491.6 498.5 1500.4 496.5 1509.2 494.6 1518.1 492.7 1526.9 490.8 1535.8 488.9 1544.7 487.1 1553.5 485.3 1562.4 483.6 1571.3 481.8 1580.2 480.1 1589.1 478.4 1598 476.8 1606.9 475.1 1615.8 473.5 1624.7 471.9 1633.6 470.4 1642.5 468.8 1651.5 467.3 1660.4 465.8 1669.3 464.4 1678.2 462.9 1687.2 461.5 1696.1 460.1 1705.1 458.8 1714 457.4 1723 456.1 1731.9 454.8 1740.9 453.5 1749.8 452.2 1758.8 451 1767.8 449.7 1776.7 448.5 1785.7 447.3 1794.7 446.2 1803.7 445 1812.6 443.9 1821.6 442.8 1830.6 441.7 1839.6 440.6 1848.6 439.5 1857.6 438.5 1866.6 437.5 1875.6 436.4 1884.6 435.5 1893.6 434.5 1902.6 433.5 1911.6 432.6 1920.6 431.6 1929.6 430.7 1938.6 429.8 1947.6 428.9 1956.6 428 1965.6 427.2 1974.6 426.3 1983.6 425.5 1992.6 424.7 2001.6 423.9 2010.7 423.1 2019.7 422.3 2028.7 421.5 2037.7 420.7 2046.7 420 2055.7 419.2 2064.8 418.5 2073.8 417.8 2082.8 417 2091.8 416.3 2100.9 415.6 2109.9 414.9 2118.9 414.3 2127.9 413.6 2137 412.9 2146 412.2 2155 411.6 2164 410.9 2173.1 410.3 2182.1 409.7 2191.1 409" stroke="#00c853" stroke-width="15.5" stroke-dasharray="14.5 45.5" stroke-dashoffset="0"/>
<path d="M399.7 1973.8 400.1 1964.8 400.5 1955.8 400.9 1946.7 401.3 1937.7 401.6 1928.7 402 1919.6 402.3 1910.6 402.6 1901.6 402.9 1892.5 403.2 1883.5 403.5 1874.5 403.7 1865.4 404 1856.4 404.2 1847.4 404.5 1838.3 404.7 1829.3 404.9 1820.3 405.1 1811.2 405.3 1802.2 405.5 1793.2 405.7 1784.1 405.9 1775.1 406.1 1766.1 406.3 1757 406.4 1748 406.6 1738.9 406.7 1729.9 406.9 1720.9 407 1711.8 407.1 1702.8 407.2 1693.8 407.4 1684.7 407.5 1675.7 407.6 1666.6 407.7 1657.6 407.8 1648.6 407.9 1639.5 408 1630.5 408.1 1621.5 408.2 1612.4 408.3 1603.4 408.4 1594.3 408.5 1585.3 408.6 1576.3 408.7 1567.2 408.8 1558.2 408.9 1549.2 409 1540.1 409 1531.1 409.1 1522 409.2 1513 409.3 1504 409.4 1494.9 409.5 1485.9 409.6 1476.9 409.7 1467.8 409.8 1458.8 410 1449.7 410.1 1440.7 410.2 1431.7 410.3 1422.6 410.5 1413.6 410.6 1404.6 410.7 1395.5 410.9 1386.5 411 1377.5 411.2 1368.4 411.3 1359.4 411.5 1350.3 411.7 1341.3 411.9 1332.3 412.1 1323.2 412.3 1314.2 412.5 1305.2 412.7 1296.1 412.9 1287.1 413.2 1278.1 413.4 1269 413.7 1260 413.9 1251 414.2 1241.9 414.5 1232.9 414.8 1223.9 415.1 1214.8 415.4 1205.8 415.8 1196.8 416.1 1187.7 416.5 1178.7 416.8 1169.7 417.2 1160.6 417.6 1151.6 418 1142.6 418.5 1133.5 418.9 1124.5 419.3 1115.5 419.8 1106.5 420.3 1097.4 420.8 1088.4 421.3 1079.4 421.9 1070.4 422.4 1061.4 423 1052.3 423.6 1043.3 424.2 1034.3 424.8 1025.3 425.4 1016.3 426.1 1007.2 426.7 998.2 427.4 989.2 428.2 980.2 428.9 971.2 429.6 962.2 430.4 953.2 431.2 944.2 432 935.2 432.8 926.2 433.7 917.2 434.6 908.2 435.5 899.2 436.4 890.2 437.3 881.2 438.3 872.2 439.3 863.3 440.3 854.3 441.3 845.3 442.4 836.3 443.5 827.3 444.6 818.4 445.7 809.4 446.9 800.4 448.1 791.5 449.5 782.6 450.8 773.6 452.3 764.7 453.9 755.8 455.6 746.9 457.4 738.1 459.4 729.3 461.5 720.5 463.8 711.7 466.3 703 469 694.4 471.9 685.8 474.9 677.3 478.2 668.9 481.8 660.6 485.6 652.4 489.6 644.3 493.8 636.3 498.3 628.5 503.1 620.8 508.1 613.3 513.4 605.9 518.9 598.8 524.6 591.8 530.6 585 536.9 578.5 543.3 572.2 550.1 566.2 557.1 560.5 564.3 555 571.7 549.9 579.3 544.9 587 540.3 594.9 535.8 602.9 531.6 610.9 527.5 619.1 523.6 627.3 519.8 635.6 516.2 644 512.8 652.4 509.6 660.9 506.5 669.4 503.5 678 500.7 686.7 498.1 695.3 495.6 704.1 493.2 712.8 490.9 721.6 488.8 730.4 486.8 739.2 484.9 748.1 483.1 757 481.4 765.9 479.8 774.8 478.3 783.7 476.8 792.6 475.5 801.6 474.2 810.6 473 819.5 471.9 828.5 470.8 837.5 469.7 846.4 468.7 855.4 467.8 864.4 466.9 873.4 466 882.4 465.1 891.4 464.3 900.4 463.4 909.4 462.6 918.4 461.8 927.4 461 936.4 460.2 945.4 459.4 954.4 458.6 963.4 457.9 972.4 457.1 981.4 456.4 990.5 455.6 999.5 454.9 1008.5 454.1 1017.5 453.4 1026.5 452.7 1035.5 452 1044.5 451.3 1053.5 450.6 1062.5 449.9 1071.6 449.3 1080.6 448.6 1089.6 447.9 1098.6 447.3 1107.6 446.6 1116.6 446 1125.6 445.4 1134.7 444.8 1143.7 444.1 1152.7 443.5 1161.7 442.9 1170.7 442.3 1179.7 441.8 1188.8 441.2 1197.8 440.6 1206.8 440.1 1215.8 439.5 1224.8 438.9 1233.9 438.4 1242.9 437.9 1251.9 437.3 1260.9 436.8 1270 436.3 1279 435.8 1288 435.3 1297 434.8 1306.1 434.3 1315.1 433.8 1324.1 433.3 1333.1 432.9 1342.2 432.4 1351.2 431.9 1360.2 431.5 1369.2 431.1 1378.3 430.6 1387.3 430.2 1396.3 429.7 1405.4 429.3 1414.4 428.9 1423.4 428.5 1432.4 428.1 1441.5 427.7 1450.5 427.3 1459.5 426.9 1468.6 426.5 1477.6 426.1 1486.6 425.8 1495.6 425.4 1504.7 425 1513.7 424.7 1522.7 424.3 1531.8 424 1540.8 423.6 1549.8 423.3 1558.9 423 1567.9 422.6 1576.9 422.3 1586 422 1595 421.7 1604 421.4 1613.1 421.1 1622.1 420.8 1631.1 420.5 1640.2 420.2 1649.2 419.9 1658.2 419.6 1667.3 419.3 1676.3 419 1685.3 418.8 1694.4 418.5 1703.4 418.2 1712.4 418 1721.5 417.7 1730.5 417.5 1739.5 417.2 1748.6 417 1757.6 416.7 1766.6 416.5 1775.7 416.2 1784.7 416 1793.7 415.8 1802.8 415.6 1811.8 415.3 1820.9 415.1 1829.9 414.9 1838.9 414.7 1848 414.5 1857 414.3 1866 414.1 1875.1 413.9 1884.1 413.7 1893.1 413.5 1902.2 413.3 1911.2 413.1 1920.2 412.9 1929.3 412.7 1938.3 412.5 1947.4 412.3 1956.4 412.2 1965.4 412 1974.5 411.8 1983.5 411.6 1992.5 411.5 2001.6 411.3 2010.6 411.1 2019.6 411 2028.7 410.8 2037.7 410.6 2046.8 410.5 2055.8 410.3 2064.8 410.2 2073.9 410 2082.9 409.8 2091.9 409.7 2101 409.5 2110 409.4 2119 409.2 2128.1 409.1 2137.1 408.9 2146.2 408.8 2155.2 408.7 2164.2 408.5 2173.3 408.4 2182.3 408.2 2191.3 408.1" stroke="#ff0000" stroke-width="15.5" stroke-dasharray="14.5 45.5" stroke-dashoffset="0"/>
</g>
<g class="b">
<text x="392.6" y="82.4" text-anchor="middle">0</text>
<text x="392.6" y="2133.9" text-anchor="middle">0</text>
<text x="752.4" y="82.4" text-anchor="middle">2000</text>
<text x="752.4" y="2133.9" text-anchor="middle">2000</text>
<text x="1112.1" y="82.4" text-anchor="middle">4000</text>
<text x="1112.1" y="2133.9" text-anchor="middle">4000</text>
<text x="1471.9" y="82.4" text-anchor="middle">6000</text>
<text x="1471.9" y="2133.9" text-anchor="middle">6000</text>
<text x="1831.6" y="82.4" text-anchor="middle">8000</text>
<text x="1831.6" y="2133.9" text-anchor="middle">8000</text>
<text x="2191.4" y="82.4" text-anchor="middle">10000</text>
<text x="2191.4" y="2133.9" text-anchor="middle">10000</text>
<text x="300.5" y="213.1" text-anchor="end">10<tspan class="s" dy="-33.5">2</tspan></text>
<text x="2279" y="213.1">10<tspan class="s" dy="-33.5">2</tspan></text>
<text x="300.5" y="662.9" text-anchor="end">10<tspan class="s" dy="-33.5">-3</tspan></text>
<text x="2279" y="662.9">10<tspan class="s" dy="-33.5">-3</tspan></text>
<text x="300.5" y="1112.6" text-anchor="end">10<tspan class="s" dy="-33.5">-8</tspan></text>
<text x="2279" y="1112.6">10<tspan class="s" dy="-33.5">-8</tspan></text>
<text x="300.5" y="1562.4" text-anchor="end">10<tspan class="s" dy="-33.5">-13</tspan></text>
<text x="2279" y="1562.4">10<tspan class="s" dy="-33.5">-13</tspan></text>
<text x="300.5" y="2012.1" text-anchor="end">10<tspan class="s" dy="-33.5">-18</tspan></text>
<text x="2279" y="2012.1">10<tspan class="s" dy="-33.5">-18</tspan></text>
<text transform="translate(93 1086.2) rotate(-90)" text-anchor="middle" style="font-size:66.3px">EFFECTIVE DOSE [Sv/years]</text>
<text x="1289" y="2270.1" text-anchor="middle"><tspan class="i">t</tspan> [years]</text>
<text x="417.9" y="264.3" class="a i">x</text>
<text x="466.9" y="264.3" class="a">=</text>
<text x="523.3" y="264.3" class="a">100</text>
<text x="642.8" y="264.3" class="a">m,</text>
<text x="729.9" y="264.3" class="a i">y</text>
<text x="773.6" y="264.3" class="a">=</text>
<text x="829.6" y="264.3" class="a">50</text>
<text x="915.3" y="264.3" class="a">m,</text>
<text x="1006.1" y="264.3" class="a i">z</text>
<text x="1042.6" y="264.3" class="a">=</text>
<text x="1099.2" y="264.3" class="a">50</text>
<text x="1184" y="264.3" class="a">m</text>
</g>
<rect x="1100" y="2282.2" width="400" height="26" fill="#fff"/>
<g class="r">
<text x="519.5" y="460" style="fill:#000">Total</text>
<text x="1131" y="513" style="fill:#ff0000"><tspan class="s" dy="-19.5">226</tspan><tspan dy="19.5">Ra</tspan></text>
<text x="810.5" y="732" style="fill:#0080ff"><tspan class="s" dy="-19.5">234</tspan><tspan dy="19.5">U</tspan></text>
<text x="854" y="937.4" style="fill:#00c853"><tspan class="s" dy="-19.5">230</tspan><tspan dy="19.5">Th</tspan></text>
<text x="1189.5" y="1553.3" style="fill:#6f2ff7"><tspan class="s" dy="-19.5">238</tspan><tspan dy="19.5">Pu</tspan></text>
<text x="2012" y="1586.5" style="fill:#000"><tspan class="s" dy="-19.5">238</tspan><tspan dy="19.5">Pu</tspan></text>
<text x="2012" y="1675.5" style="fill:#000"><tspan class="s" dy="-19.5">234</tspan><tspan dy="19.5">U</tspan></text>
<text x="2012" y="1764.5" style="fill:#000"><tspan class="s" dy="-19.5">230</tspan><tspan dy="19.5">Th</tspan></text>
<text x="2012" y="1853.5" style="fill:#000"><tspan class="s" dy="-19.5">226</tspan><tspan dy="19.5">Ra</tspan></text>
<text x="2016" y="1942.3" style="fill:#000">Total</text>
</g>
<g fill="none" stroke-linecap="round">
<path d="M1619.5 1565.5H1890" stroke="#6f2ff7" stroke-width="15.5" stroke-dasharray="14.5 45.5"/>
<path d="M1619.5 1654.7H1890" stroke="#0080ff" stroke-width="15.5" stroke-dasharray="14.5 45.5"/>
<path d="M1619.5 1743.3H1890" stroke="#00c853" stroke-width="15.5" stroke-dasharray="14.5 45.5"/>
<path d="M1619.5 1832H1890" stroke="#ff0000" stroke-width="15.5" stroke-dasharray="14.5 45.5"/>
<path d="M1621 1920.3H1904.5" stroke="#000" stroke-width="19.0"/>
</g>
<path d="M360 2560.3h32.6V2576.7h-32.6zM2191.4 2560.3h32.6V2576.7h-32.6zM360 2650.4h32.6V2666.8h-32.6zM2191.4 2650.4h32.6V2666.8h-32.6zM360 2740.5h32.6V2756.8h-32.6zM2191.4 2740.5h32.6V2756.8h-32.6zM360 2830.6h32.6V2846.9h-32.6zM2191.4 2830.6h32.6V2846.9h-32.6zM360 2920.7h32.6V2937h-32.6zM2191.4 2920.7h32.6V2937h-32.6zM360 3010.8h32.6V3027.1h-32.6zM2191.4 3010.8h32.6V3027.1h-32.6zM360 3100.9h32.6V3117.2h-32.6zM2191.4 3100.9h32.6V3117.2h-32.6zM360 3191h32.6V3207.3h-32.6zM2191.4 3191h32.6V3207.3h-32.6zM360 3281.1h32.6V3297.4h-32.6zM2191.4 3281.1h32.6V3297.4h-32.6zM360 3371.2h32.6V3387.5h-32.6zM2191.4 3371.2h32.6V3387.5h-32.6zM360 3461.2h32.6V3477.6h-32.6zM2191.4 3461.2h32.6V3477.6h-32.6zM360 3551.3h32.6V3567.7h-32.6zM2191.4 3551.3h32.6V3567.7h-32.6zM360 3641.4h32.6V3657.8h-32.6zM2191.4 3641.4h32.6V3657.8h-32.6zM360 3731.5h32.6V3747.9h-32.6zM2191.4 3731.5h32.6V3747.9h-32.6zM360 3821.6h32.6V3838h-32.6zM2191.4 3821.6h32.6V3838h-32.6zM360 3911.7h32.6V3928.1h-32.6zM2191.4 3911.7h32.6V3928.1h-32.6zM360 4001.8h32.6V4018.2h-32.6zM2191.4 4001.8h32.6V4018.2h-32.6zM360 4091.9h32.6V4108.3h-32.6zM2191.4 4091.9h32.6V4108.3h-32.6zM360 4182h32.6V4198.4h-32.6zM2191.4 4182h32.6V4198.4h-32.6zM360 4272.1h32.6V4288.5h-32.6zM2191.4 4272.1h32.6V4288.5h-32.6z" fill="#000"/>
<path d="M360 2576.7h32.6V2580.3h-32.6zM2191.4 2576.7h32.6V2580.3h-32.6zM360 2666.8h32.6V2670.4h-32.6zM2191.4 2666.8h32.6V2670.4h-32.6zM360 2756.8h32.6V2760.5h-32.6zM2191.4 2756.8h32.6V2760.5h-32.6zM360 2846.9h32.6V2850.6h-32.6zM2191.4 2846.9h32.6V2850.6h-32.6zM360 2937h32.6V2940.7h-32.6zM2191.4 2937h32.6V2940.7h-32.6zM360 3027.1h32.6V3030.8h-32.6zM2191.4 3027.1h32.6V3030.8h-32.6zM360 3117.2h32.6V3120.9h-32.6zM2191.4 3117.2h32.6V3120.9h-32.6zM360 3207.3h32.6V3211h-32.6zM2191.4 3207.3h32.6V3211h-32.6zM360 3297.4h32.6V3301h-32.6zM2191.4 3297.4h32.6V3301h-32.6zM360 3387.5h32.6V3391.1h-32.6zM2191.4 3387.5h32.6V3391.1h-32.6zM360 3477.6h32.6V3481.2h-32.6zM2191.4 3477.6h32.6V3481.2h-32.6zM360 3567.7h32.6V3571.3h-32.6zM2191.4 3567.7h32.6V3571.3h-32.6zM360 3657.8h32.6V3661.4h-32.6zM2191.4 3657.8h32.6V3661.4h-32.6zM360 3747.9h32.6V3751.5h-32.6zM2191.4 3747.9h32.6V3751.5h-32.6zM360 3838h32.6V3841.6h-32.6zM2191.4 3838h32.6V3841.6h-32.6zM360 3928.1h32.6V3931.7h-32.6zM2191.4 3928.1h32.6V3931.7h-32.6zM360 4018.2h32.6V4021.8h-32.6zM2191.4 4018.2h32.6V4021.8h-32.6zM360 4108.3h32.6V4111.9h-32.6zM2191.4 4108.3h32.6V4111.9h-32.6zM360 4198.4h32.6V4202h-32.6zM2191.4 4198.4h32.6V4202h-32.6zM360 4288.5h32.6V4292.1h-32.6zM2191.4 4288.5h32.6V4292.1h-32.6z" fill="#000" fill-opacity="0.85"/>
<path d="M360 2580.3h32.6V2587.4h-32.6zM2191.4 2580.3h32.6V2587.4h-32.6zM360 2670.4h32.6V2677.5h-32.6zM2191.4 2670.4h32.6V2677.5h-32.6zM360 2760.5h32.6V2767.6h-32.6zM2191.4 2760.5h32.6V2767.6h-32.6zM360 2850.6h32.6V2857.7h-32.6zM2191.4 2850.6h32.6V2857.7h-32.6zM360 2940.7h32.6V2947.8h-32.6zM2191.4 2940.7h32.6V2947.8h-32.6zM360 3030.8h32.6V3037.9h-32.6zM2191.4 3030.8h32.6V3037.9h-32.6zM360 3120.9h32.6V3128h-32.6zM2191.4 3120.9h32.6V3128h-32.6zM360 3211h32.6V3218.1h-32.6zM2191.4 3211h32.6V3218.1h-32.6zM360 3301h32.6V3308.2h-32.6zM2191.4 3301h32.6V3308.2h-32.6zM360 3391.1h32.6V3398.3h-32.6zM2191.4 3391.1h32.6V3398.3h-32.6zM360 3481.2h32.6V3488.4h-32.6zM2191.4 3481.2h32.6V3488.4h-32.6zM360 3571.3h32.6V3578.5h-32.6zM2191.4 3571.3h32.6V3578.5h-32.6zM360 3661.4h32.6V3668.6h-32.6zM2191.4 3661.4h32.6V3668.6h-32.6zM360 3751.5h32.6V3758.7h-32.6zM2191.4 3751.5h32.6V3758.7h-32.6zM360 3841.6h32.6V3848.8h-32.6zM2191.4 3841.6h32.6V3848.8h-32.6zM360 3931.7h32.6V3938.8h-32.6zM2191.4 3931.7h32.6V3938.8h-32.6zM360 4021.8h32.6V4028.9h-32.6zM2191.4 4021.8h32.6V4028.9h-32.6zM360 4111.9h32.6V4119h-32.6zM2191.4 4111.9h32.6V4119h-32.6zM360 4202h32.6V4209.1h-32.6zM2191.4 4202h32.6V4209.1h-32.6zM360 4292.1h32.6V4299.2h-32.6zM2191.4 4292.1h32.6V4299.2h-32.6z" fill="#000" fill-opacity="0.45"/>
<path d="M360 2623.3H392.6M2191.4 2623.3H2224M360 2607.4H392.6M2191.4 2607.4H2224M360 2596.2H392.6M2191.4 2596.2H2224M360 2587.4H392.6M2191.4 2587.4H2224M360 2580.3H392.6M2191.4 2580.3H2224M360 2574.3H392.6M2191.4 2574.3H2224M360 2569H392.6M2191.4 2569H2224M360 2564.4H392.6M2191.4 2564.4H2224M360 2713.4H392.6M2191.4 2713.4H2224M360 2697.5H392.6M2191.4 2697.5H2224M360 2686.2H392.6M2191.4 2686.2H2224M360 2677.5H392.6M2191.4 2677.5H2224M360 2670.4H392.6M2191.4 2670.4H2224M360 2664.4H392.6M2191.4 2664.4H2224M360 2659.1H392.6M2191.4 2659.1H2224M360 2654.5H392.6M2191.4 2654.5H2224M360 2803.5H392.6M2191.4 2803.5H2224M360 2787.6H392.6M2191.4 2787.6H2224M360 2776.3H392.6M2191.4 2776.3H2224M360 2767.6H392.6M2191.4 2767.6H2224M360 2760.5H392.6M2191.4 2760.5H2224M360 2754.4H392.6M2191.4 2754.4H2224M360 2749.2H392.6M2191.4 2749.2H2224M360 2744.6H392.6M2191.4 2744.6H2224M360 2893.6H392.6M2191.4 2893.6H2224M360 2877.7H392.6M2191.4 2877.7H2224M360 2866.4H392.6M2191.4 2866.4H2224M360 2857.7H392.6M2191.4 2857.7H2224M360 2850.6H392.6M2191.4 2850.6H2224M360 2844.5H392.6M2191.4 2844.5H2224M360 2839.3H392.6M2191.4 2839.3H2224M360 2834.7H392.6M2191.4 2834.7H2224M360 2983.7H392.6M2191.4 2983.7H2224M360 2967.8H392.6M2191.4 2967.8H2224M360 2956.5H392.6M2191.4 2956.5H2224M360 2947.8H392.6M2191.4 2947.8H2224M360 2940.7H392.6M2191.4 2940.7H2224M360 2934.6H392.6M2191.4 2934.6H2224M360 2929.4H392.6M2191.4 2929.4H2224M360 2924.8H392.6M2191.4 2924.8H2224M360 3073.7H392.6M2191.4 3073.7H2224M360 3057.9H392.6M2191.4 3057.9H2224M360 3046.6H392.6M2191.4 3046.6H2224M360 3037.9H392.6M2191.4 3037.9H2224M360 3030.8H392.6M2191.4 3030.8H2224M360 3024.7H392.6M2191.4 3024.7H2224M360 3019.5H392.6M2191.4 3019.5H2224M360 3014.9H392.6M2191.4 3014.9H2224M360 3163.8H392.6M2191.4 3163.8H2224M360 3148H392.6M2191.4 3148H2224M360 3136.7H392.6M2191.4 3136.7H2224M360 3128H392.6M2191.4 3128H2224M360 3120.9H392.6M2191.4 3120.9H2224M360 3114.8H392.6M2191.4 3114.8H2224M360 3109.6H392.6M2191.4 3109.6H2224M360 3105H392.6M2191.4 3105H2224M360 3253.9H392.6M2191.4 3253.9H2224M360 3238.1H392.6M2191.4 3238.1H2224M360 3226.8H392.6M2191.4 3226.8H2224M360 3218.1H392.6M2191.4 3218.1H2224M360 3211H392.6M2191.4 3211H2224M360 3204.9H392.6M2191.4 3204.9H2224M360 3199.7H392.6M2191.4 3199.7H2224M360 3195.1H392.6M2191.4 3195.1H2224M360 3344H392.6M2191.4 3344H2224M360 3328.2H392.6M2191.4 3328.2H2224M360 3316.9H392.6M2191.4 3316.9H2224M360 3308.2H392.6M2191.4 3308.2H2224M360 3301H392.6M2191.4 3301H2224M360 3295H392.6M2191.4 3295H2224M360 3289.8H392.6M2191.4 3289.8H2224M360 3285.2H392.6M2191.4 3285.2H2224M360 3434.1H392.6M2191.4 3434.1H2224M360 3418.3H392.6M2191.4 3418.3H2224M360 3407H392.6M2191.4 3407H2224M360 3398.3H392.6M2191.4 3398.3H2224M360 3391.1H392.6M2191.4 3391.1H2224M360 3385.1H392.6M2191.4 3385.1H2224M360 3379.9H392.6M2191.4 3379.9H2224M360 3375.3H392.6M2191.4 3375.3H2224M360 3524.2H392.6M2191.4 3524.2H2224M360 3508.4H392.6M2191.4 3508.4H2224M360 3497.1H392.6M2191.4 3497.1H2224M360 3488.4H392.6M2191.4 3488.4H2224M360 3481.2H392.6M2191.4 3481.2H2224M360 3475.2H392.6M2191.4 3475.2H2224M360 3470H392.6M2191.4 3470H2224M360 3465.4H392.6M2191.4 3465.4H2224M360 3614.3H392.6M2191.4 3614.3H2224M360 3598.5H392.6M2191.4 3598.5H2224M360 3587.2H392.6M2191.4 3587.2H2224M360 3578.5H392.6M2191.4 3578.5H2224M360 3571.3H392.6M2191.4 3571.3H2224M360 3565.3H392.6M2191.4 3565.3H2224M360 3560.1H392.6M2191.4 3560.1H2224M360 3555.5H392.6M2191.4 3555.5H2224M360 3704.4H392.6M2191.4 3704.4H2224M360 3688.5H392.6M2191.4 3688.5H2224M360 3677.3H392.6M2191.4 3677.3H2224M360 3668.6H392.6M2191.4 3668.6H2224M360 3661.4H392.6M2191.4 3661.4H2224M360 3655.4H392.6M2191.4 3655.4H2224M360 3650.2H392.6M2191.4 3650.2H2224M360 3645.6H392.6M2191.4 3645.6H2224M360 3794.5H392.6M2191.4 3794.5H2224M360 3778.6H392.6M2191.4 3778.6H2224M360 3767.4H392.6M2191.4 3767.4H2224M360 3758.7H392.6M2191.4 3758.7H2224M360 3751.5H392.6M2191.4 3751.5H2224M360 3745.5H392.6M2191.4 3745.5H2224M360 3740.3H392.6M2191.4 3740.3H2224M360 3735.7H392.6M2191.4 3735.7H2224M360 3884.6H392.6M2191.4 3884.6H2224M360 3868.7H392.6M2191.4 3868.7H2224M360 3857.5H392.6M2191.4 3857.5H2224M360 3848.8H392.6M2191.4 3848.8H2224M360 3841.6H392.6M2191.4 3841.6H2224M360 3835.6H392.6M2191.4 3835.6H2224M360 3830.4H392.6M2191.4 3830.4H2224M360 3825.8H392.6M2191.4 3825.8H2224M360 3974.7H392.6M2191.4 3974.7H2224M360 3958.8H392.6M2191.4 3958.8H2224M360 3947.6H392.6M2191.4 3947.6H2224M360 3938.8H392.6M2191.4 3938.8H2224M360 3931.7H392.6M2191.4 3931.7H2224M360 3925.7H392.6M2191.4 3925.7H2224M360 3920.5H392.6M2191.4 3920.5H2224M360 3915.8H392.6M2191.4 3915.8H2224M360 4064.8H392.6M2191.4 4064.8H2224M360 4048.9H392.6M2191.4 4048.9H2224M360 4037.7H392.6M2191.4 4037.7H2224M360 4028.9H392.6M2191.4 4028.9H2224M360 4021.8H392.6M2191.4 4021.8H2224M360 4015.8H392.6M2191.4 4015.8H2224M360 4010.6H392.6M2191.4 4010.6H2224M360 4005.9H392.6M2191.4 4005.9H2224M360 4154.9H392.6M2191.4 4154.9H2224M360 4139H392.6M2191.4 4139H2224M360 4127.8H392.6M2191.4 4127.8H2224M360 4119H392.6M2191.4 4119H2224M360 4111.9H392.6M2191.4 4111.9H2224M360 4105.9H392.6M2191.4 4105.9H2224M360 4100.6H392.6M2191.4 4100.6H2224M360 4096H392.6M2191.4 4096H2224M360 4245H392.6M2191.4 4245H2224M360 4229.1H392.6M2191.4 4229.1H2224M360 4217.9H392.6M2191.4 4217.9H2224M360 4209.1H392.6M2191.4 4209.1H2224M360 4202H392.6M2191.4 4202H2224M360 4196H392.6M2191.4 4196H2224M360 4190.7H392.6M2191.4 4190.7H2224M360 4186.1H392.6M2191.4 4186.1H2224M360 4335.1H392.6M2191.4 4335.1H2224M360 4319.2H392.6M2191.4 4319.2H2224M360 4308H392.6M2191.4 4308H2224M360 4299.2H392.6M2191.4 4299.2H2224M360 4292.1H392.6M2191.4 4292.1H2224M360 4286.1H392.6M2191.4 4286.1H2224M360 4280.8H392.6M2191.4 4280.8H2224M360 4276.2H392.6M2191.4 4276.2H2224" stroke="#000" stroke-width="4.8" fill="none"/>
<path d="M331.7 2560.3H392.6M2191.4 2560.3H2252.3M331.7 2650.4H392.6M2191.4 2650.4H2252.3M331.7 2740.5H392.6M2191.4 2740.5H2252.3M331.7 2830.6H392.6M2191.4 2830.6H2252.3M331.7 2920.7H392.6M2191.4 2920.7H2252.3M331.7 3010.8H392.6M2191.4 3010.8H2252.3M331.7 3100.9H392.6M2191.4 3100.9H2252.3M331.7 3191H392.6M2191.4 3191H2252.3M331.7 3281.1H392.6M2191.4 3281.1H2252.3M331.7 3371.2H392.6M2191.4 3371.2H2252.3M331.7 3461.2H392.6M2191.4 3461.2H2252.3M331.7 3551.3H392.6M2191.4 3551.3H2252.3M331.7 3641.4H392.6M2191.4 3641.4H2252.3M331.7 3731.5H392.6M2191.4 3731.5H2252.3M331.7 3821.6H392.6M2191.4 3821.6H2252.3M331.7 3911.7H392.6M2191.4 3911.7H2252.3M331.7 4001.8H392.6M2191.4 4001.8H2252.3M331.7 4091.9H392.6M2191.4 4091.9H2252.3M331.7 4182H392.6M2191.4 4182H2252.3M331.7 4272.1H392.6M2191.4 4272.1H2252.3M331.7 4362.2H392.6M2191.4 4362.2H2252.3M392.6 2499.4V2560.3M392.6 4362.2V4423.1M572.5 2529.3V2560.3M572.5 4362.2V4393.2M752.4 2499.4V2560.3M752.4 4362.2V4423.1M932.2 2529.3V2560.3M932.2 4362.2V4393.2M1112.1 2499.4V2560.3M1112.1 4362.2V4423.1M1292 2529.3V2560.3M1292 4362.2V4393.2M1471.9 2499.4V2560.3M1471.9 4362.2V4423.1M1651.8 2529.3V2560.3M1651.8 4362.2V4393.2M1831.6 2499.4V2560.3M1831.6 4362.2V4423.1M2011.5 2529.3V2560.3M2011.5 4362.2V4393.2M2191.4 2499.4V2560.3M2191.4 4362.2V4423.1" stroke="#000" stroke-width="5.3" fill="none" stroke-linecap="round"/>
<rect x="392.6" y="2560.3" width="1798.8" height="1801.9" fill="none" stroke="#000" stroke-width="5.6"/>
<g fill="none" stroke-linecap="round" stroke-linejoin="round">
<path d="M435.4 4361.9 435.5 4352.8 435.7 4343.8 435.8 4334.7 436 4325.7 436.1 4316.6 436.3 4307.6 436.4 4298.5 436.6 4289.5 436.8 4280.4 437 4271.4 437.2 4262.3 437.4 4253.3 437.6 4244.2 437.9 4235.2 438.1 4226.1 438.3 4217.1 438.6 4208 438.9 4199 439.1 4189.9 439.4 4180.9 439.7 4171.8 440 4162.8 440.3 4153.7 440.6 4144.7 440.9 4135.6 441.2 4126.6 441.5 4117.5 441.9 4108.5 442.2 4099.4 442.6 4090.4 442.9 4081.4 443.3 4072.3 443.7 4063.3 444 4054.2 444.4 4045.2 444.8 4036.1 445.2 4027.1 445.6 4018 446 4009 446.5 3999.9 446.9 3990.9 447.3 3981.9 447.8 3972.8 448.2 3963.8 448.7 3954.7 449.1 3945.7 449.6 3936.7 450.1 3927.6 450.5 3918.6 451 3909.5 451.5 3900.5 452 3891.5 452.5 3882.4 453 3873.4 453.6 3864.3 454.1 3855.3 454.6 3846.3 455.1 3837.2 455.7 3828.2 456.2 3819.1 456.8 3810.1 457.4 3801.1 457.9 3792 458.5 3783 459.1 3774 459.7 3764.9 460.3 3755.9 460.9 3746.9 461.5 3737.8 462.1 3728.8 462.7 3719.8 463.3 3710.7 463.9 3701.7 464.6 3692.7 465.2 3683.6 465.8 3674.6 466.5 3665.6 467.1 3656.5 467.8 3647.5 468.5 3638.5 469.2 3629.5 469.9 3620.4 470.6 3611.4 471.3 3602.4 472 3593.4 472.8 3584.3 473.6 3575.3 474.3 3566.3 475.1 3557.3 476 3548.3 476.8 3539.3 477.7 3530.2 478.6 3521.2 479.5 3512.2 480.4 3503.2 481.3 3494.2 482.3 3485.2 483.3 3476.2 484.3 3467.2 485.4 3458.2 486.4 3449.2 487.5 3440.3 488.7 3431.3 489.8 3422.3 491 3413.3 492.3 3404.3 493.5 3395.4 494.8 3386.4 496.1 3377.5 497.5 3368.5 498.9 3359.6 500.3 3350.6 501.7 3341.7 503.2 3332.8 504.7 3323.8 506.3 3314.9 507.9 3306 509.6 3297.1 511.3 3288.2 513.1 3279.3 514.9 3270.5 516.8 3261.6 518.8 3252.8 520.8 3244 523 3235.2 525.2 3226.4 527.5 3217.6 529.9 3208.9 532.4 3200.2 535.1 3191.6 537.8 3182.9 540.7 3174.3 543.7 3165.8 546.8 3157.3 550 3148.8 553.4 3140.5 557 3132.1 560.7 3123.9 564.6 3115.7 568.6 3107.6 572.9 3099.6 577.3 3091.7 581.8 3083.9 586.6 3076.2 591.6 3068.6 596.7 3061.2 602.1 3053.8 607.6 3046.7 613.4 3039.7 619.3 3032.9 625.4 3026.2 631.7 3019.7 638.2 3013.3 644.8 3007.2 651.6 3001.2 658.5 2995.3 665.6 2989.7 672.8 2984.2 680.1 2978.9 687.6 2973.8 695.2 2968.8 702.8 2964 710.6 2959.5 718.5 2955 726.5 2950.8 734.6 2946.7 742.8 2942.9 751.1 2939.2 759.4 2935.6 767.8 2932.3 776.3 2929.1 784.8 2926.1 793.4 2923.2 802.1 2920.4 810.7 2917.8 819.4 2915.4 828.2 2913 836.9 2910.8 845.7 2908.6 854.6 2906.6 863.4 2904.7 872.3 2902.8 881.1 2901 890 2899.3 898.9 2897.7 907.9 2896.1 916.8 2894.6 925.7 2893.2 934.7 2891.7 943.6 2890.4 952.6 2889 961.5 2887.7 970.5 2886.5 979.5 2885.3 988.4 2884.1 997.4 2883 1006.4 2881.9 1015.4 2880.9 1024.4 2879.8 1033.4 2878.9 1042.4 2877.9 1051.4 2877 1060.4 2876.1 1069.4 2875.3 1078.5 2874.5 1087.5 2873.7 1096.5 2872.9 1105.5 2872.2 1114.5 2871.5 1123.6 2870.8 1132.6 2870.1 1141.6 2869.5 1150.7 2868.8 1159.7 2868.2 1168.7 2867.6 1177.8 2867 1186.8 2866.5 1195.8 2865.9 1204.9 2865.4 1213.9 2864.9 1223 2864.4 1232 2863.8 1241 2863.3 1250.1 2862.9 1259.1 2862.4 1268.2 2861.9 1277.2 2861.4 1286.2 2860.9 1295.3 2860.4 1304.3 2859.9 1313.4 2859.5 1322.4 2859 1331.4 2858.5 1340.5 2858 1349.5 2857.6 1358.6 2857.1 1367.6 2856.6 1376.6 2856.1 1385.7 2855.7 1394.7 2855.2 1403.8 2854.7 1412.8 2854.3 1421.9 2853.8 1430.9 2853.4 1439.9 2852.9 1449 2852.4 1458 2852 1467.1 2851.5 1476.1 2851.1 1485.1 2850.6 1494.2 2850.2 1503.2 2849.7 1512.3 2849.3 1521.3 2848.9 1530.4 2848.4 1539.4 2848 1548.4 2847.6 1557.5 2847.1 1566.5 2846.7 1575.6 2846.3 1584.6 2845.9 1593.7 2845.4 1602.7 2845 1611.8 2844.6 1620.8 2844.2 1629.8 2843.8 1638.9 2843.4 1647.9 2843 1657 2842.6 1666 2842.2 1675.1 2841.8 1684.1 2841.4 1693.2 2841.1 1702.2 2840.7 1711.2 2840.3 1720.3 2839.9 1729.3 2839.6 1738.4 2839.2 1747.4 2838.8 1756.5 2838.5 1765.5 2838.1 1774.6 2837.8 1783.6 2837.4 1792.7 2837.1 1801.7 2836.8 1810.8 2836.4 1819.8 2836.1 1828.9 2835.8 1837.9 2835.5 1846.9 2835.1 1856 2834.8 1865 2834.5 1874.1 2834.2 1883.1 2833.9 1892.2 2833.6 1901.2 2833.3 1910.3 2833.1 1919.3 2832.8 1928.4 2832.5 1937.4 2832.2 1946.5 2832 1955.5 2831.7 1964.6 2831.5 1973.6 2831.2 1982.7 2831 1991.7 2830.8 2000.8 2830.5 2009.8 2830.3 2018.9 2830.1 2027.9 2829.9 2037 2829.7 2046 2829.5 2055.1 2829.3 2064.1 2829.1 2073.2 2828.9 2082.2 2828.7 2091.3 2828.5 2100.4 2828.4 2109.4 2828.2 2118.5 2828 2127.5 2827.9 2136.6 2827.8 2145.6 2827.6 2154.7 2827.5 2163.7 2827.4 2172.8 2827.3 2181.8 2827.1 2190.9 2827" stroke="#000" stroke-width="19.0" stroke-linecap="butt"/>
<path d="M1092 4359.8 1094.6 4351.1 1097.3 4342.5 1100 4333.8 1102.7 4325.2 1105.5 4316.5 1108.2 4307.9 1111.1 4299.3 1113.9 4290.7 1116.8 4282.1 1119.7 4273.5 1122.6 4264.9 1125.6 4256.4 1128.5 4247.8 1131.6 4239.3 1134.6 4230.8 1137.7 4222.2 1140.8 4213.7 1143.9 4205.2 1147.1 4196.7 1150.3 4188.3 1153.5 4179.8 1156.7 4171.3 1160 4162.9 1163.3 4154.4 1166.7 4146 1170 4137.6 1173.5 4129.2 1176.9 4120.8 1180.3 4112.5 1183.8 4104.1 1187.4 4095.8 1190.9 4087.4 1194.5 4079.1 1198.1 4070.8 1201.8 4062.5 1205.5 4054.2 1209.2 4046 1212.9 4037.7 1216.7 4029.5 1220.5 4021.3 1224.3 4013 1228.2 4004.9 1232.1 3996.7 1236 3988.5 1240 3980.4 1244 3972.2 1248 3964.1 1252.1 3956 1256.2 3947.9 1260.3 3939.9 1264.4 3931.8 1268.6 3923.8 1272.8 3915.8 1277.1 3907.8 1281.4 3899.8 1285.7 3891.8 1290.1 3883.9 1294.4 3875.9 1298.9 3868 1303.3 3860.1 1307.8 3852.3 1312.3 3844.4 1316.9 3836.6 1321.4 3828.8 1326.1 3821 1330.7 3813.2 1335.4 3805.4 1340.1 3797.7 1344.9 3790 1349.6 3782.3 1354.5 3774.6 1359.3 3767 1364.2 3759.4 1369.1 3751.7 1374.1 3744.2 1379.1 3736.6 1384.1 3729.1 1389.2 3721.5 1394.3 3714.1 1399.4 3706.6 1404.6 3699.1 1409.8 3691.7 1415 3684.3 1420.3 3677 1425.6 3669.6 1430.9 3662.3 1436.3 3655 1441.7 3647.7 1447.1 3640.5 1452.6 3633.3 1458.1 3626.1 1463.7 3618.9 1469.3 3611.8 1474.9 3604.7 1480.5 3597.6 1486.2 3590.6 1491.9 3583.5 1497.7 3576.5 1503.5 3569.6 1509.3 3562.6 1515.2 3555.7 1521.1 3548.9 1527 3542 1533 3535.2 1539 3528.4 1545.1 3521.7 1551.1 3514.9 1557.2 3508.3 1563.4 3501.6 1569.6 3495 1575.8 3488.4 1582 3481.8 1588.3 3475.3 1594.6 3468.8 1600.9 3462.3 1607.3 3455.8 1613.7 3449.4 1620.1 3443.1 1626.6 3436.7 1633.1 3430.4 1639.7 3424.1 1646.2 3417.9 1652.8 3411.7 1659.5 3405.5 1666.1 3399.4 1672.8 3393.3 1679.5 3387.2 1686.3 3381.2 1693.1 3375.2 1699.9 3369.2 1706.7 3363.3 1713.6 3357.4 1720.5 3351.5 1727.5 3345.7 1734.5 3339.9 1741.5 3334.2 1748.5 3328.5 1755.5 3322.8 1762.6 3317.1 1769.8 3311.5 1776.9 3306 1784.1 3300.4 1791.3 3294.9 1798.5 3289.5 1805.8 3284.1 1813.1 3278.7 1820.4 3273.4 1827.8 3268.1 1835.1 3262.8 1842.5 3257.6 1850 3252.4 1857.4 3247.3 1864.9 3242.2 1872.4 3237.1 1880 3232.1 1887.5 3227.1 1895.1 3222.1 1902.7 3217.2 1910.4 3212.4 1918.1 3207.6 1925.8 3202.8 1933.5 3198 1941.2 3193.3 1949 3188.7 1956.8 3184.1 1964.6 3179.5 1972.5 3175 1980.3 3170.5 1988.2 3166.1 1996.2 3161.6 2004.1 3157.3 2012.1 3153 2020 3148.7 2028.1 3144.5 2036.1 3140.3 2044.2 3136.2 2052.2 3132.1 2060.3 3128 2068.5 3124 2076.6 3120 2084.8 3116.1 2093 3112.2 2101.2 3108.4 2109.4 3104.6 2117.7 3100.9 2125.9 3097.2 2134.2 3093.5 2142.5 3089.9 2150.9 3086.4 2159.2 3082.9 2167.6 3079.4 2176 3076 2184.4 3072.6 2192.8 3069.3" stroke="#0080ff" stroke-width="15.5" stroke-dasharray="14.5 45.5" stroke-dashoffset="-15"/>
<path d="M1210.3 4358.5 1213.6 4350 1217 4341.6 1220.4 4333.2 1223.9 4324.8 1227.4 4316.4 1230.9 4308 1234.5 4299.7 1238.1 4291.3 1241.7 4283 1245.4 4274.7 1249.1 4266.4 1252.9 4258.1 1256.7 4249.9 1260.6 4241.6 1264.4 4233.4 1268.4 4225.2 1272.3 4217 1276.3 4208.9 1280.3 4200.7 1284.4 4192.6 1288.5 4184.5 1292.7 4176.4 1296.8 4168.3 1301.1 4160.3 1305.3 4152.2 1309.6 4144.2 1313.9 4136.2 1318.3 4128.3 1322.7 4120.3 1327.1 4112.4 1331.6 4104.5 1336.1 4096.6 1340.6 4088.7 1345.2 4080.9 1349.8 4073 1354.5 4065.2 1359.2 4057.4 1363.9 4049.7 1368.7 4041.9 1373.4 4034.2 1378.3 4026.5 1383.1 4018.8 1388 4011.2 1393 4003.5 1397.9 3995.9 1402.9 3988.3 1408 3980.8 1413 3973.2 1418.1 3965.7 1423.3 3958.2 1428.5 3950.7 1433.7 3943.3 1438.9 3935.9 1444.2 3928.5 1449.5 3921.1 1454.8 3913.7 1460.2 3906.4 1465.6 3899.1 1471.1 3891.8 1476.5 3884.6 1482 3877.3 1487.6 3870.1 1493.2 3862.9 1498.8 3855.8 1504.4 3848.7 1510.1 3841.6 1515.8 3834.5 1521.5 3827.4 1527.3 3820.4 1533.1 3813.4 1538.9 3806.4 1544.8 3799.5 1550.7 3792.6 1556.6 3785.7 1562.6 3778.8 1568.6 3772 1574.6 3765.2 1580.6 3758.4 1586.7 3751.7 1592.9 3745 1599 3738.3 1605.2 3731.6 1611.4 3725 1617.6 3718.4 1623.9 3711.8 1630.2 3705.2 1636.6 3698.7 1642.9 3692.2 1649.3 3685.8 1655.7 3679.4 1662.2 3673 1668.7 3666.6 1675.2 3660.3 1681.7 3654 1688.3 3647.7 1694.9 3641.4 1701.6 3635.2 1708.2 3629 1714.9 3622.9 1721.6 3616.8 1728.4 3610.7 1735.2 3604.7 1742 3598.6 1748.8 3592.7 1755.7 3586.7 1762.6 3580.8 1769.5 3574.9 1776.5 3569 1783.5 3563.2 1790.5 3557.4 1797.5 3551.7 1804.6 3546 1811.7 3540.3 1818.8 3534.7 1826 3529 1833.1 3523.5 1840.3 3517.9 1847.6 3512.4 1854.8 3507 1862.1 3501.5 1869.4 3496.1 1876.8 3490.8 1884.1 3485.4 1891.5 3480.2 1898.9 3474.9 1906.4 3469.7 1913.9 3464.5 1921.4 3459.4 1928.9 3454.3 1936.4 3449.2 1944 3444.2 1951.6 3439.2 1959.2 3434.3 1966.9 3429.4 1974.6 3424.5 1982.3 3419.7 1990 3414.9 1997.7 3410.2 2005.5 3405.4 2013.3 3400.8 2021.1 3396.2 2029 3391.6 2036.9 3387 2044.8 3382.5 2052.7 3378.1 2060.6 3373.6 2068.6 3369.3 2076.6 3364.9 2084.6 3360.6 2092.6 3356.4 2100.7 3352.2 2108.7 3348 2116.8 3343.9 2125 3339.8 2133.1 3335.7 2141.3 3331.7 2149.4 3327.8 2157.7 3323.9 2165.9 3320 2174.1 3316.2 2182.4 3312.4 2190.7 3308.7" stroke="#00c853" stroke-width="15.5" stroke-dasharray="14.5 45.5" stroke-dashoffset="-31"/>
<path d="M434.7 4354.6 434.8 4345.6 435 4336.6 435.1 4327.5 435.3 4318.5 435.4 4309.5 435.6 4300.4 435.8 4291.4 436 4282.4 436.2 4273.4 436.4 4264.3 436.6 4255.3 436.8 4246.3 437 4237.2 437.3 4228.2 437.5 4219.2 437.8 4210.2 438 4201.1 438.3 4192.1 438.5 4183.1 438.8 4174 439.1 4165 439.4 4156 439.7 4147 440 4137.9 440.3 4128.9 440.7 4119.9 441 4110.9 441.3 4101.8 441.7 4092.8 442 4083.8 442.4 4074.8 442.7 4065.7 443.1 4056.7 443.5 4047.7 443.9 4038.7 444.3 4029.6 444.7 4020.6 445.1 4011.6 445.5 4002.6 445.9 3993.6 446.4 3984.5 446.8 3975.5 447.2 3966.5 447.7 3957.5 448.1 3948.5 448.6 3939.4 449.1 3930.4 449.6 3921.4 450 3912.4 450.5 3903.4 451 3894.3 451.5 3885.3 452 3876.3 452.6 3867.3 453.1 3858.3 453.6 3849.3 454.1 3840.2 454.7 3831.2 455.2 3822.2 455.8 3813.2 456.4 3804.2 456.9 3795.2 457.5 3786.2 458.1 3777.1 458.7 3768.1 459.3 3759.1 459.9 3750.1 460.5 3741.1 461.1 3732.1 461.7 3723.1 462.3 3714.1 463 3705.1 463.6 3696.1 464.3 3687 464.9 3678 465.6 3669 466.2 3660 466.9 3651 467.6 3642 468.3 3633 469 3624 469.7 3615 470.5 3606 471.2 3597 472 3588 472.8 3579 473.6 3570 474.4 3561 475.2 3552 476.1 3543 476.9 3534 477.8 3525 478.7 3516.1 479.7 3507.1 480.6 3498.1 481.6 3489.1 482.6 3480.1 483.6 3471.2 484.7 3462.2 485.8 3453.2 486.9 3444.3 488 3435.3 489.2 3426.4 490.4 3417.4 491.6 3408.5 492.8 3399.5 494.1 3390.6 495.4 3381.6 496.8 3372.7 498.2 3363.8 499.6 3354.9 501 3345.9 502.5 3337 504 3328.1 505.6 3319.2 507.2 3310.3 508.8 3301.5 510.5 3292.6 512.2 3283.7 514 3274.9 515.9 3266 517.8 3257.2 519.8 3248.4 521.9 3239.6 524.1 3230.9 526.3 3222.1 528.7 3213.4 531.2 3204.7 533.7 3196 536.4 3187.4 539.2 3178.8 542.1 3170.3 545.1 3161.8 548.3 3153.3 551.6 3144.9 555.1 3136.6 558.7 3128.3 562.5 3120.1 566.4 3112 570.6 3103.9 574.8 3096 579.3 3088.1 584 3080.4 588.8 3072.8 593.8 3065.3 599 3057.9 604.5 3050.7 610.1 3043.6 615.9 3036.7 621.9 3030 628.1 3023.4 634.4 3016.9 641 3010.7 647.6 3004.6 654.5 2998.7 661.4 2993 668.5 2987.4 675.8 2982 683.2 2976.8 690.6 2971.7 698.3 2966.9 706 2962.2 713.8 2957.7 721.7 2953.3 729.7 2949.2 737.8 2945.2 746 2941.4 754.3 2937.8 762.7 2934.3 771.1 2931 779.5 2927.9 788.1 2925 796.7 2922.1 805.3 2919.5 813.9 2916.9 822.6 2914.5 831.4 2912.2 840.1 2910 848.9 2907.9 857.7 2905.9 866.6 2904 875.4 2902.2 884.3 2900.4 893.1 2898.8 902 2897.2 910.9 2895.6 919.8 2894.1 928.8 2892.7 937.7 2891.3 946.6 2889.9 955.5 2888.6 964.5 2887.3 973.4 2886.1 982.4 2884.9 991.3 2883.8 1000.3 2882.6 1009.3 2881.6 1018.2 2880.5 1027.2 2879.5 1036.2 2878.6 1045.2 2877.6 1054.2 2876.7 1063.2 2875.9 1072.2 2875 1081.1 2874.2 1090.1 2873.4 1099.1 2872.7 1108.1 2872 1117.2 2871.3 1126.2 2870.6 1135.2 2869.9 1144.2 2869.3 1153.2 2868.7 1162.2 2868 1171.2 2867.5 1180.2 2866.9 1189.2 2866.3 1198.2 2865.8 1207.3 2865.3 1216.3 2864.7 1225.3 2864.2 1234.3 2863.7 1243.3 2863.2 1252.4 2862.7 1261.4 2862.2 1270.4 2861.8 1279.4 2861.3 1288.4 2860.8 1297.4 2860.3 1306.5 2859.8 1315.5 2859.4 1324.5 2858.9 1333.5 2858.4 1342.5 2857.9 1351.6 2857.4 1360.6 2857 1369.6 2856.5 1378.6 2856 1387.6 2855.6 1396.7 2855.1 1405.7 2854.6 1414.7 2854.2 1423.7 2853.7 1432.7 2853.3 1441.8 2852.8 1450.8 2852.3 1459.8 2851.9 1468.8 2851.4 1477.8 2851 1486.9 2850.5 1495.9 2850.1 1504.9 2849.7 1513.9 2849.2 1522.9 2848.8 1532 2848.3 1541 2847.9 1550 2847.5 1559 2847.1 1568 2846.6 1577.1 2846.2 1586.1 2845.8 1595.1 2845.4 1604.1 2845 1613.2 2844.6 1622.2 2844.1 1631.2 2843.7 1640.2 2843.3 1649.2 2842.9 1658.3 2842.5 1667.3 2842.2 1676.3 2841.8 1685.3 2841.4 1694.4 2841 1703.4 2840.6 1712.4 2840.3 1721.4 2839.9 1730.5 2839.5 1739.5 2839.2 1748.5 2838.8 1757.5 2838.4 1766.6 2838.1 1775.6 2837.7 1784.6 2837.4 1793.6 2837.1 1802.7 2836.7 1811.7 2836.4 1820.7 2836.1 1829.7 2835.7 1838.8 2835.4 1847.8 2835.1 1856.8 2834.8 1865.8 2834.5 1874.9 2834.2 1883.9 2833.9 1892.9 2833.6 1901.9 2833.3 1911 2833 1920 2832.8 1929 2832.5 1938.1 2832.2 1947.1 2832 1956.1 2831.7 1965.1 2831.5 1974.2 2831.2 1983.2 2831 1992.2 2830.7 2001.2 2830.5 2010.3 2830.3 2019.3 2830.1 2028.3 2829.9 2037.4 2829.6 2046.4 2829.4 2055.4 2829.3 2064.5 2829.1 2073.5 2828.9 2082.5 2828.7 2091.5 2828.5 2100.6 2828.4 2109.6 2828.2 2118.6 2828 2127.7 2827.9 2136.7 2827.8 2145.7 2827.6 2154.8 2827.5 2163.8 2827.4 2172.8 2827.3 2181.8 2827.1 2190.9 2827" stroke="#ff0000" stroke-width="15.5" stroke-dasharray="14.5 45.5" stroke-dashoffset="0"/>
</g>
<g class="b">
<text x="392.6" y="2455.3" text-anchor="middle">0</text>
<text x="392.6" y="4509.7" text-anchor="middle">0</text>
<text x="752.4" y="2455.3" text-anchor="middle">2000</text>
<text x="752.4" y="4509.7" text-anchor="middle">2000</text>
<text x="1112.1" y="2455.3" text-anchor="middle">4000</text>
<text x="1112.1" y="4509.7" text-anchor="middle">4000</text>
<text x="1471.9" y="2455.3" text-anchor="middle">6000</text>
<text x="1471.9" y="4509.7" text-anchor="middle">6000</text>
<text x="1831.6" y="2455.3" text-anchor="middle">8000</text>
<text x="1831.6" y="4509.7" text-anchor="middle">8000</text>
<text x="2191.4" y="2455.3" text-anchor="middle">10000</text>
<text x="2191.4" y="4509.7" text-anchor="middle">10000</text>
<text x="300.5" y="2586" text-anchor="end">10<tspan class="s" dy="-33.5">2</tspan></text>
<text x="2279" y="2586">10<tspan class="s" dy="-33.5">2</tspan></text>
<text x="300.5" y="3036.5" text-anchor="end">10<tspan class="s" dy="-33.5">-3</tspan></text>
<text x="2279" y="3036.5">10<tspan class="s" dy="-33.5">-3</tspan></text>
<text x="300.5" y="3486.9" text-anchor="end">10<tspan class="s" dy="-33.5">-8</tspan></text>
<text x="2279" y="3486.9">10<tspan class="s" dy="-33.5">-8</tspan></text>
<text x="300.5" y="3937.4" text-anchor="end">10<tspan class="s" dy="-33.5">-13</tspan></text>
<text x="2279" y="3937.4">10<tspan class="s" dy="-33.5">-13</tspan></text>
<text x="300.5" y="4387.9" text-anchor="end">10<tspan class="s" dy="-33.5">-18</tspan></text>
<text x="2279" y="4387.9">10<tspan class="s" dy="-33.5">-18</tspan></text>
<text transform="translate(93 3459.1) rotate(-90)" text-anchor="middle" style="font-size:66.3px">EFFECTIVE DOSE [Sv/years]</text>
<text x="1289" y="4645.9" text-anchor="middle"><tspan class="i">t</tspan> [years]</text>
<text x="409.3" y="2642.3" class="a i">x</text>
<text x="458.3" y="2642.3" class="a">=</text>
<text x="516.7" y="2642.3" class="a">250</text>
<text x="634.2" y="2642.3" class="a">m,</text>
<text x="721.3" y="2642.3" class="a i">y</text>
<text x="765" y="2642.3" class="a">=</text>
<text x="821" y="2642.3" class="a">50</text>
<text x="906.7" y="2642.3" class="a">m,</text>
<text x="997.5" y="2642.3" class="a i">z</text>
<text x="1034" y="2642.3" class="a">=</text>
<text x="1090.6" y="2642.3" class="a">50</text>
<text x="1175.4" y="2642.3" class="a">m</text>
</g>
<rect x="1100" y="4658" width="400" height="26" fill="#fff"/>
<g class="r">
<text x="754.5" y="2835" style="fill:#000">Total</text>
<text x="1097" y="2963.6" style="fill:#ff0000"><tspan class="s" dy="-19.5">226</tspan><tspan dy="19.5">Ra</tspan></text>
<text x="1751" y="3417" style="fill:#0080ff"><tspan class="s" dy="-19.5">234</tspan><tspan dy="19.5">U</tspan></text>
<text x="1916.5" y="3552.6" style="fill:#00c853"><tspan class="s" dy="-19.5">230</tspan><tspan dy="19.5">Th</tspan></text>
<text x="2014.5" y="4045.8" style="fill:#000"><tspan class="s" dy="-19.5">234</tspan><tspan dy="19.5">U</tspan></text>
<text x="2014.5" y="4134.5" style="fill:#000"><tspan class="s" dy="-19.5">230</tspan><tspan dy="19.5">Th</tspan></text>
<text x="2014.5" y="4223.3" style="fill:#000"><tspan class="s" dy="-19.5">226</tspan><tspan dy="19.5">Ra</tspan></text>
<text x="2016.5" y="4311.8" style="fill:#000">Total</text>
</g>
<g fill="none" stroke-linecap="round">
<path d="M1619.5 4023.7H1890" stroke="#0080ff" stroke-width="15.5" stroke-dasharray="14.5 45.5"/>
<path d="M1619.5 4112.5H1890" stroke="#00c853" stroke-width="15.5" stroke-dasharray="14.5 45.5"/>
<path d="M1619.5 4201.3H1890" stroke="#ff0000" stroke-width="15.5" stroke-dasharray="14.5 45.5"/>
<path d="M1621 4290H1904.5" stroke="#000" stroke-width="19.0"/>
</g>
<rect x="2394.6" y="0" width="28" height="4797" fill="#fff"/>
<text class="cap" x="1213.5" y="2373.5" text-anchor="middle">(a)</text>
<text class="cap" x="1213.5" y="4748" text-anchor="middle">(b)</text>
</g>
</svg>
</body>
</html>
